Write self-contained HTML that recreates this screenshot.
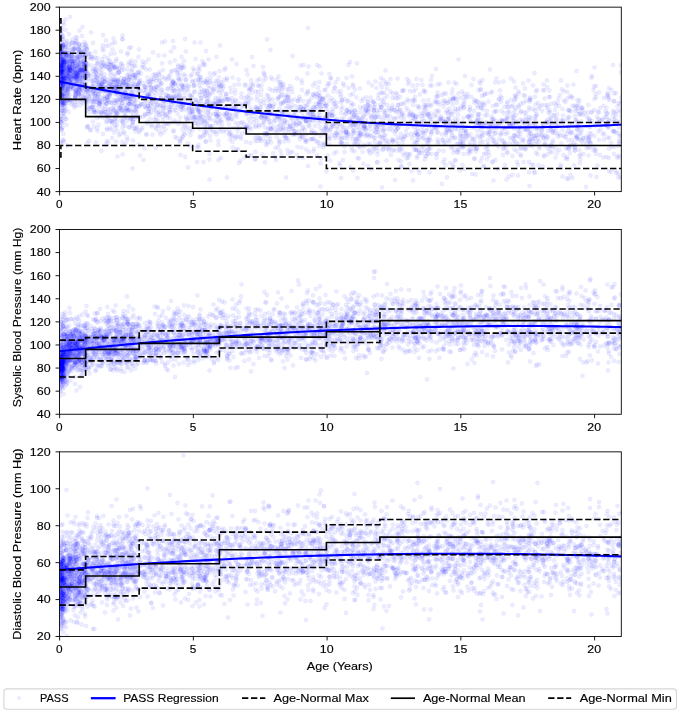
<!DOCTYPE html><html><head><meta charset="utf-8"><style>html,body{margin:0;padding:0;background:#fff;overflow:hidden}svg{display:block}text{font-family:"Liberation Sans",sans-serif}</style></head><body><svg width="680" height="713" viewBox="0 0 680 713" style="will-change:transform"><rect width="680" height="713" fill="#fff"/><defs><clipPath id="c0"><rect x="59.5" y="7.15" width="561.8" height="184.45"/></clipPath><clipPath id="c1"><rect x="59.5" y="229.5" width="561.8" height="184.75"/></clipPath><clipPath id="c2"><rect x="59.5" y="451.85" width="561.8" height="184.65"/></clipPath><marker id="mk" markerUnits="userSpaceOnUse" overflow="visible" markerWidth="1" markerHeight="1"><circle r="4.3" fill="#00f" fill-opacity="0.075" stroke="#00f" stroke-opacity="0.04" stroke-width="1.8"/></marker></defs><g clip-path="url(#c0)"><g transform="scale(.5)" fill="none" stroke="none"><path d="m119 46 0 25 0 43 0 3 0 17 0 11 0 7 0 7 0 21 0 11 0 6 0 55 1-183 0 21 0 8 0 1 0 0 0 4 0 1 0 0 0 1 0 2 0 1 0 4 0 15 0 1 0 3 0 0 0 7 0 1 0 1 0 4 0 3 0 5 0 3 0 1 0 6 0 1 0 2 0 1 0 1 0 6 0 3 0 4 0 2 0 2 0 3 0 12 0 15 0 11 0 9 0 8 0 2 0 7 1-181 0 7 0 27 0 8 0 1 0 1 0 3 0 6 0 5 0 5 0 5 0 7 0 0 0 4 0 0 0 16 0 1 0 0 0 2 0 6 0 1 0 2 0 5 0 5 0 4 0 5 0 1 0 1 0 4 0 5 0 17 0 14 0 47 1-194 0 4 0 8 0 2 0 1 0 1 0 8 0 8 0 7 0 1 0 1 0 3 0 0 0 1 0 1 0 2 0 1 0 3 0 0 0 2 0 1 0 0 0 2 0 1 0 4 0 1 0 6 0 4 0 7 0 0 0 5 0 13 0 12 0 40 0 47 1-232 0 5 0 7 0 24 0 6 0 1 0 4 0 10 0 5 0 3 0 4 0 1 0 1 0 3 0 3 0 1 0 1 0 3 0 5 0 1 0 2 0 0 0 9 0 3 0 0 0 1 0 5 0 1 0 0 0 9 0 7 0 11 0 2 0 8 0 1 0 7 0 28 0 7 0 12 0 2 0 1 1-175 0 3 0 13 0 6 0 2 0 8 0 1 0 2 0 3 0 3 0 5 0 1 0 3 0 7 0 0 0 0 0 2 0 0 0 10 0 4 0 1 0 0 0 15 0 5 0 9 0 2 0 2 0 2 0 11 0 1 0 4 0 7 0 3 0 12 0 15 1-173 0 5 0 11 0 2 0 2 0 1 0 8 0 3 0 14 0 1 0 6 0 0 0 5 0 4 0 4 0 5 0 7 0 4 0 2 0 5 0 1 0 3 0 1 0 1 0 6 0 2 0 0 0 5 0 8 0 1 0 12 0 8 0 10 0 34 1-210 0 27 0 6 0 12 0 1 0 24 0 5 0 2 0 2 0 1 0 4 0 2 0 0 0 1 0 9 0 9 0 1 0 3 0 3 0 13 0 0 0 1 0 0 0 4 0 3 0 23 0 5 0 1 0 74 1-167 0 6 0 4 0 6 0 6 0 1 0 2 0 0 0 4 0 1 0 0 0 0 0 1 0 1 0 7 0 1 0 2 0 2 0 1 0 7 0 0 0 2 0 2 0 16 0 3 0 6 0 9 0 3 0 2 0 0 0 13 0 4 0 17 0 25 0 12 0 4 1-235 0 41 0 24 0 6 0 1 0 1 0 2 0 1 0 1 0 0 0 5 0 5 0 1 0 14 0 0 0 4 0 2 0 0 0 2 0 3 0 1 0 1 0 6 0 15 0 2 0 12 0 7 0 10 0 12 0 5 1-139 0 23 0 8 0 4 0 23 0 8 0 2 0 9 0 17 0 4 0 3 0 4 1-103 0 9 0 1 0 0 0 2 0 15 0 1 0 17 0 0 0 26 0 10 0 3 0 18 0 5 0 4 0 6 0 9 1-183 0 21 0 28 0 16 0 8 0 11 0 10 0 1 0 22 0 5 0 2 0 16 0 28 0 31 1-153 0 8 0 2 0 11 0 2 0 0 0 8 0 8 0 14 0 19 0 0 0 9 0 16 0 37 1-108 0 0 0 4 0 8 0 5 0 8 0 6 0 5 0 2 0 1 0 2 0 1 0 5 0 15 0 19 0 46 0 12 1-168 0 29 0 12 0 8 0 1 0 5 0 8 0 11 0 13 0 9 0 4 0 7 0 3 0 9 0 90 1-191 0 10 0 8 0 3 0 7 0 0 0 7 0 8 0 6 0 3 0 7 0 6 0 8 0 12 0 15 1-60 0 4 0 0 0 6 0 2 0 8 0 11 0 3 0 2 0 2 0 3 0 1 0 17 0 2 0 5 1-96 0 23 0 6 0 2 0 5 0 1 0 8 0 2 0 28 0 7 0 32 1-156 0 22 0 16 0 3 0 2 0 7 0 6 0 9 0 2 0 20 0 7 0 6 1-68 0 34 0 3 0 1 0 4 0 4 0 9 0 9 0 9 0 17 0 9 1-165 0 53 0 32 0 4 0 3 0 1 0 2 0 6 0 2 0 1 0 1 0 1 0 2 0 0 0 6 0 5 0 9 0 2 0 13 1-71 0 9 0 7 0 11 0 1 0 3 0 3 0 1 0 17 0 9 0 33 0 0 1-105 0 16 0 1 0 6 0 30 0 6 0 1 0 4 0 0 0 6 0 3 0 6 1-63 0 11 0 19 0 9 0 3 0 10 0 10 0 0 0 6 0 23 0 7 1-124 0 1 0 28 0 4 0 4 0 3 0 5 0 4 0 1 0 5 0 3 0 2 0 12 0 10 1-88 0 25 0 0 0 9 0 16 0 4 0 18 0 7 0 8 0 10 0 30 1-107 0 26 0 3 0 1 0 14 0 6 0 29 1-81 0 16 0 9 0 22 0 9 0 17 0 5 1-53 0 1 0 2 0 11 0 2 0 11 0 3 0 18 0 1 1-84 0 11 0 2 0 22 0 17 0 5 0 10 0 3 0 54 0 4 1-126 0 7 0 2 0 11 0 7 0 10 0 7 0 6 0 2 0 12 0 4 0 0 0 9 0 26 0 2 0 2 0 8 1-129 0 57 0 4 0 10 0 0 0 8 0 8 0 6 0 15 0 3 0 0 0 2 0 2 0 4 0 2 0 2 1-115 0 3 0 37 0 22 0 1 0 6 0 2 0 1 0 3 0 24 0 2 1-102 0 49 0 2 0 12 0 2 0 2 0 4 0 2 0 5 0 6 0 13 0 1 0 1 0 30 1-136 0 40 0 0 0 15 0 7 0 10 0 6 0 4 0 5 0 3 0 3 0 6 1-67 0 9 0 16 0 13 0 4 0 2 0 1 0 52 1-106 0 20 0 5 0 19 0 3 0 4 0 1 0 25 1-76 0 15 0 10 0 4 0 30 0 21 0 5 0 2 0 3 0 0 1-100 0 2 0 3 0 4 0 17 0 18 0 3 0 6 0 5 0 16 0 10 1-112 0 27 0 12 0 4 0 2 0 1 0 7 0 13 0 5 0 3 0 5 0 0 0 4 0 1 0 7 0 1 0 0 0 6 0 1 0 13 0 5 0 3 0 7 0 2 0 2 0 8 1-88 0 13 0 15 0 0 0 10 0 6 0 1 0 15 0 8 0 31 1-107 0 20 0 18 0 21 0 13 0 6 1-60 0 9 0 9 0 1 0 3 0 26 0 4 0 24 1-95 0 32 0 5 0 25 0 21 0 18 1-132 0 34 0 8 0 24 0 5 0 24 0 1 0 8 0 2 1-124 0 36 0 7 0 14 0 10 0 19 0 9 0 4 0 7 0 39 1-88 0 4 0 13 0 13 0 12 0 3 0 51 1-103 0 24 0 7 0 2 0 2 0 1 0 5 0 5 0 7 0 7 0 29 0 1 1-72 0 1 0 2 0 4 0 2 0 3 0 8 0 9 0 21 0 11 1-99 0 18 0 3 0 23 0 12 0 17 0 14 0 0 0 26 1-102 0 12 0 6 0 1 0 11 0 6 0 0 0 9 0 5 0 6 0 4 0 15 0 3 0 17 1-102 0 2 0 21 0 14 0 12 0 5 0 0 0 6 0 7 0 12 0 6 0 4 0 3 0 16 1-71 0 2 0 5 0 0 0 4 0 7 0 12 0 3 0 43 0 4 1-112 0 4 0 41 0 30 0 13 0 2 0 16 1-100 0 0 0 82 0 40 0 34 0 32 1-158 0 16 0 2 0 12 0 44 0 4 0 7 0 40 1-102 0 25 0 3 0 10 0 8 0 54 1-145 0 1 0 7 0 34 0 2 0 24 0 7 0 6 0 29 1 65 1-89 0 4 0 20 0 7 2-215 0 98 0 11 0 13 0 21 0 9 0 18 0 0 0 81 0 0 1-195 0 49 0 75 1-13 0 27 0 11 0 2 1-102 0 68 0 17 0 16 1-73 0 17 0 9 0 4 0 32 0 10 1-128 0 31 0 21 0 24 0 12 0 9 0 27 0 33 1-94 0 32 0 1 0 5 0 15 0 22 1-58 0 9 0 45 0 4 0 29 1-114 0 51 0 8 0 5 0 17 0 4 1-109 0 17 0 11 0 17 0 28 0 4 0 4 1-92 0 50 0 25 0 9 1-50 0 7 0 58 0 8 0 15 0 59 1-139 0 8 0 29 1-60 0 6 0 11 0 9 0 6 0 2 0 6 0 11 0 4 0 20 0 6 0 32 0 21 1-141 0 47 0 4 0 55 0 40 1-136 0 45 0 11 0 9 0 3 1-4 0 10 0 50 1-85 0 5 0 12 0 7 0 17 0 8 0 10 1-49 0 24 0 7 0 3 1-72 0 24 0 41 0 6 0 0 0 26 1-81 0 17 0 33 1-77 0 5 0 15 0 4 0 20 0 4 0 6 0 2 0 45 1-94 0 8 0 27 0 6 0 1 0 49 0 78 1-183 0 48 0 1 0 37 0 20 1-134 0 7 0 27 0 33 0 2 0 8 0 3 0 25 0 20 0 11 1-157 0 113 0 85 1-167 0 29 0 33 1 1 0 29 0 5 0 25 0 13 1-123 0 13 0 8 0 15 0 7 0 1 0 23 0 38 1-85 0 30 0 11 0 3 0 4 0 17 0 5 0 8 1-80 0 33 0 11 0 8 0 41 0 65 1-208 0 11 0 116 0 16 1-31 0 14 0 21 0 4 0 12 1-69 0 20 0 12 0 25 0 11 0 14 0 3 0 22 1-147 0 25 0 5 0 20 0 9 0 1 0 5 0 1 1-84 0 11 0 55 0 35 0 16 0 51 1-150 0 37 0 15 0 14 0 19 0 16 1-145 0 30 0 17 0 34 0 6 0 16 1-65 0 1 0 9 0 27 0 12 0 11 0 15 1-64 0 17 0 12 0 16 0 7 0 35 0 30 1-149 0 16 0 25 0 32 0 5 0 2 0 41 0 13 0 0 1-97 0 24 0 37 0 12 0 6 1-96 0 2 0 41 0 8 0 80 1-122 0 22 0 4 0 12 0 31 0 36 0 6 0 28 1-189 0 12 0 65 0 7 0 4 0 69 1-28 1-139 0 51 0 5 0 2 0 25 0 14 0 11 0 15 0 21 1-86 0 18 0 24 0 2 0 2 0 40 0 44 1-158 0 52 0 4 0 1 0 42 0 7 0 28 1-156 0 48 0 3 0 13 0 29 0 23 0 38 0 12 1-76 0 4 0 4 0 5 0 34 0 9 0 25 1-134 0 39 0 10 0 0 0 13 0 22 0 20 0 57 1-165 0 21 0 29 0 5 0 10 0 0 0 20 0 20 0 7 0 5 0 8 1-109 0 27 0 9 0 5 0 15 0 39 0 21 1-91 0 26 0 15 0 1 0 24 0 37 0 51 1-167 0 15 0 2 0 19 0 4 1-23 1-26 0 8 0 0 0 0 0 26 0 39 0 7 0 54 1-135 0 38 0 2 0 9 0 9 0 4 0 17 0 9 1-57 0 4 0 11 0 35 1-53 0 36 0 68 1-165 0 24 0 29 0 23 0 10 0 4 0 9 0 10 0 4 0 4 0 21 1-112 1 11 0 30 0 19 0 17 0 0 0 15 1-150 0 7 0 1 0 91 0 72 0 14 0 28 0 25 1-177 0 31 0 0 0 10 0 18 0 1 0 6 0 1 0 23 0 23 0 3 1-109 0 25 0 2 0 13 0 7 0 28 0 24 0 26 1-106 0 30 0 10 1-41 0 2 0 8 0 57 0 7 0 36 1-84 0 8 0 44 0 17 1-87 0 21 0 0 0 8 0 5 0 10 0 8 0 4 0 10 0 57 1-117 0 16 0 7 0 3 1-40 0 10 0 3 0 8 0 12 1-15 0 18 0 2 0 21 0 1 0 5 0 20 0 33 1-169 0 3 0 30 0 11 0 10 0 10 0 6 0 60 0 44 1-84 0 11 0 13 0 2 1-92 0 19 0 17 0 9 0 26 0 8 1-113 0 29 0 34 0 0 0 11 0 84 1-100 0 39 0 5 0 9 0 1 0 10 0 2 0 35 1-103 0 40 0 6 0 0 0 10 1-26 0 20 0 37 1-144 0 32 0 34 0 12 0 17 0 4 0 30 0 13 0 0 1-116 0 21 0 13 0 18 0 13 0 17 0 6 1-77 0 8 0 38 0 7 0 49 0 17 1-60 0 0 0 33 0 24 0 89 1-187 0 0 0 18 0 6 0 19 0 39 0 7 0 5 0 0 0 37 1-69 0 9 0 36 1-126 0 35 0 27 0 7 0 9 1-59 0 5 0 30 0 7 0 10 1-44 0 12 0 38 0 13 0 17 1-115 0 10 0 16 0 3 0 105 0 6 1-107 0 18 0 49 0 11 0 23 1-78 0 21 0 12 0 1 0 2 0 2 0 15 1-57 0 18 0 32 0 29 1-108 0 26 1-4 0 2 1-56 0 29 0 7 0 37 0 102 1-190 0 46 0 20 0 4 0 8 0 36 0 22 0 30 1-103 0 4 0 17 0 78 1-101 0 21 0 31 0 22 0 77 1-103 1-61 0 62 1 50 1-124 1-12 0 85 0 47 1-125 0 37 0 66 1 87 1-185 0 38 0 8 1 5 0 19 0 92 1-124 0 1 0 25 0 14 0 1 0 14 0 3 1-106 1 55 1-41 0 37 0 40 0 52 0 2 1-76 0 34 0 19 1-92 0 9 0 27 0 0 0 14 0 39 1-53 0 21 0 0 1-93 0 44 0 26 0 33 0 1 1-35 1-18 0 23 0 24 0 0 0 11 1-89 0 24 0 7 0 23 0 45 1-55 0 2 0 18 0 5 0 4 1-51 0 13 0 5 0 20 0 26 1-49 0 74 0 3 1-96 1 7 0 41 0 64 1-164 0 94 1-49 1 8 0 19 0 32 0 11 0 19 1-63 0 9 0 7 0 24 1-68 0 32 1 19 0 55 1-102 0 10 0 11 0 31 0 21 0 9 0 7 0 17 0 38 2-140 0 17 0 37 0 5 1-33 1-7 0 25 0 9 0 16 0 16 0 9 1-139 0 37 0 104 1-102 0 113 1-119 0 16 0 10 0 20 0 33 0 6 0 2 1-68 1 47 0 2 0 57 1-101 0 28 0 1 1-16 0 74 1-170 0 42 0 40 0 12 0 23 1-48 0 32 0 27 1-73 0 76 0 9 0 8 0 7 0 25 1-43 1-19 0 0 0 49 1-141 0 46 0 56 1-130 0 146 1-33 0 11 0 40 0 12 1-70 0 8 0 19 0 15 1-72 1 70 1-51 0 13 0 1 0 43 1-58 0 19 0 51 0 1 1-95 0 4 1 35 0 29 1-28 0 11 0 8 0 13 1-100 0 25 0 49 0 21 0 4 0 12 1-22 1-111 0 40 0 33 0 28 0 10 1-54 0 8 0 4 0 23 0 50 1-49 0 7 1-61 0 41 0 15 1-116 0 83 0 0 0 0 0 6 0 23 0 10 1-42 0 16 0 27 0 56 0 2 1-168 0 86 0 11 0 29 1-53 0 1 0 13 0 28 0 31 1-120 0 45 0 108 1-134 0 56 0 3 0 21 0 25 1-52 1-4 1-49 0 136 1-131 0 3 0 30 0 19 0 18 0 12 1-96 0 25 0 14 1-37 0 49 0 20 0 9 0 37 1-89 0 1 0 31 1-2 0 19 0 36 1-94 0 43 0 42 0 47 0 2 1-144 0 41 0 129 1-175 0 62 0 7 0 9 0 6 0 59 1-164 0 22 0 23 0 10 0 37 0 7 1-83 0 40 0 3 0 5 0 42 1-9 0 48 0 14 0 2 1-59 1-80 0 37 0 2 0 36 0 41 1-130 0 11 0 16 0 31 0 16 0 13 0 58 1-80 1-109 0 74 0 45 0 8 0 44 0 20 0 45 1-144 1-67 0 57 0 0 0 60 0 14 0 3 0 21 2-80 1 61 0 3 0 12 1-72 0 105 0 48 1-164 0 3 0 41 1 2 0 2 0 9 1-37 0 45 0 27 1-37 0 67 1-141 0 40 0 14 0 64 1-65 0 19 0 33 1-21 1-87 0 41 0 5 0 19 0 4 1-56 0 2 0 42 0 15 0 1 0 6 0 33 1-124 0 88 1-53 0 65 0 4 1-100 0 30 0 62 1-148 0 85 0 13 0 1 1 50 0 1 0 11 1-128 0 43 0 39 1 0 0 16 1 19 0 6 1-37 0 90 0 30 1-176 0 0 0 67 0 3 0 32 1-41 0 11 0 4 0 23 1-109 0 19 0 4 0 129 0 5 1-72 0 16 1-106 0 8 0 23 0 7 0 19 0 15 0 16 0 8 0 7 0 22 1-73 0 38 0 8 0 42 0 2 1-190 0 69 0 1 1 5 0 17 0 19 0 6 0 30 0 6 1-42 0 50 1-62 0 29 1-91 0 126 1-118 0 36 0 68 0 8 0 31 1 51 1-197 0 55 0 26 0 14 0 18 0 25 1-102 0 25 0 82 1-140 0 50 0 11 0 20 0 3 0 29 0 11 1-62 0 39 0 27 0 25 1-181 0 161 0 20 1-121 0 3 0 1 0 17 0 21 0 39 1-85 0 24 0 15 0 12 0 38 0 4 0 15 1-64 0 2 1-18 0 37 0 3 0 9 1-116 0 53 0 18 0 5 0 24 2-54 0 12 0 59 0 72 0 11 0 40 1-212 0 41 0 16 0 7 0 18 0 43 1-116 0 7 0 76 0 13 0 1 0 3 0 3 0 22 1-65 2-30 0 28 1-6 0 44 0 11 1-86 1-9 0 10 0 3 0 47 1-79 0 57 1 35 0 23 1-118 0 56 0 6 0 2 0 2 1-16 1-34 0 66 0 1 0 17 1-132 0 93 0 16 0 40 0 6 1-97 0 60 0 0 1-69 0 18 0 38 0 14 0 8 1-44 1 4 0 3 0 4 0 20 0 20 0 34 0 8 0 30 1-165 0 14 0 4 0 41 1-72 0 42 0 17 0 4 0 30 1-144 0 138 0 14 1-79 0 10 0 84 0 5 1-92 0 2 0 19 0 9 0 39 0 76 2-133 0 62 0 8 1-87 0 36 0 14 1-39 0 25 1-30 1 92 1-124 0 19 0 69 0 3 1-33 1-62 0 78 0 1 0 45 1-72 0 5 0 21 0 19 1-45 0 38 0 1 1-71 0 4 0 39 0 28 0 128 1-156 0 41 1-4 0 1 1-39 1 51 0 11 0 9 1-69 0 17 0 11 0 3 0 6 0 31 1 11 1-103 0 89 1-81 0 30 1 25 1-120 0 77 0 42 0 35 1-118 0 48 0 27 0 41 0 13 1-28 0 39 1-89 0 9 0 4 2-49 0 47 1-37 0 7 1 13 0 14 0 32 0 31 1-75 0 14 0 5 0 10 0 43 1-146 0 82 0 16 0 8 0 65 1-44 1 7 0 10 1 27 1-140 0 63 0 25 1-78 0 87 0 70 2-119 0 13 0 3 1 51 0 47 1-126 0 51 0 31 1-90 1 26 0 54 1-23 0 11 1-44 3-15 0 52 0 67 1-144 0 34 0 4 1-40 0 95 1-35 0 27 0 0 0 28 1-144 0 68 0 44 1-58 0 28 0 5 0 27 1-105 0 54 0 23 0 40 1-10 1-59 1-20 0 4 0 9 0 16 0 32 0 74 1-66 1-31 0 40 1-78 0 50 0 59 1-126 0 9 0 10 0 80 0 51 1-112 0 34 1-118 0 106 1-35 1-17 0 5 1-41 0 93 0 13 0 7 3-19 0 27 0 22 0 43 1-104 0 68 0 22 0 15 1-136 0 70 1-38 0 3 0 17 1-42 0 7 0 43 1-82 0 56 0 57 0 8 1-111 0 13 1 36 1-48 0 78 0 3 0 23 1-118 1 59 1-15 0 6 0 68 0 3 1-89 0 24 0 21 0 0 0 47 1-111 0 9 0 50 0 5 1-9 0 5 1 19 0 59 1-175 1 11 0 17 0 83 1-46 0 7 0 37 1-95 0 4 0 79 0 5 0 31 1-34 0 40 0 9 0 43 1-87 0 17 0 11 1-109 0 77 0 56 1-78 0 56 1-189 0 111 0 78 1-47 0 10 0 7 0 50 1-72 0 9 0 33 0 8 0 17 1-91 0 8 0 37 1-12 0 20 1-67 0 20 0 13 0 16 0 45 1-64 0 4 0 1 0 15 0 29 0 21 1-178 0 142 0 15 1-102 0 94 0 10 0 26 1-68 0 8 0 3 1-47 0 77 1-99 0 40 0 13 1 95 1-93 0 41 2-47 0 27 0 8 1-2 0 23 1-82 0 114 0 18 1-137 0 143 1-47 1-114 0 72 0 2 0 2 0 26 1-38 0 30 1-57 0 3 0 34 0 61 1-141 0 29 0 79 1-67 0 39 0 47 1-115 0 12 0 40 0 17 0 5 0 13 0 32 0 3 1-114 0 69 1-78 0 5 0 23 0 110 1-95 0 1 0 41 0 9 1-74 0 6 0 35 0 35 0 50 1-87 0 3 0 11 1-67 0 7 1 29 0 50 1-88 0 7 0 29 0 20 0 24 0 9 1 15 0 11 1-89 0 46 0 6 1-44 0 40 0 24 0 6 1-82 0 12 0 25 1-11 0 59 0 1 0 79 1-97 1-64 0 50 1-43 0 76 0 23 1-122 0 3 0 13 0 12 0 7 0 19 0 76 1-117 0 5 0 57 0 29 1-23 0 6 1-63 0 25 1-55 0 43 0 17 0 18 1 2 0 2 0 51 1-88 1-16 0 38 1-62 0 7 0 52 0 22 1-146 0 98 0 60 0 34 1-47 1-25 0 14 1-15 0 31 0 6 1-69 0 49 0 20 1-45 0 1 0 39 1-50 0 56 1-36 0 9 0 9 1-14 0 12 0 15 1-107 0 153 1-16 1-92 0 0 0 18 0 14 0 82 1-79 1 10 0 16 1-69 0 4 0 16 0 8 0 25 0 25 1 7 1-148 0 82 0 7 0 22 0 7 1-34 0 58 1-113 0 135 1-129 0 14 0 55 0 27 1-36 0 47 0 1 1-72 0 34 0 21 0 59 1-186 0 88 0 0 0 1 0 35 2-41 0 24 1-2 0 25 0 20 1-38 0 42 1-64 0 22 0 0 0 1 0 26 0 11 0 19 1-111 0 23 1 30 0 42 1-136 0 63 0 15 1-169 0 126 0 3 0 17 0 28 0 102 1-199 0 90 0 28 1 53 1-101 0 38 0 4 0 8 1-24 0 4 1-14 0 3 0 15 0 41 1-13 1-69 0 44 0 39 1-57 0 9 0 30 0 5 1-42 1-53 0 18 0 38 0 51 1-89 0 26 0 0 0 14 0 5 0 0 0 8 0 35 0 26 1-37 0 32 1-106 1-26 0 51 0 18 0 17 1-44 0 31 0 26 1-78 0 81 0 14 1-67 1-85 0 65 0 38 0 78 1-122 0 22 0 73 1-109 1 33 0 29 0 9 1-54 0 11 0 22 0 11 0 56 1-159 0 31 0 20 0 20 0 3 0 29 0 50 1-94 0 4 0 15 0 20 0 11 0 13 1-51 0 13 0 55 0 55 0 46 1-174 0 19 0 99 1-170 0 115 2-65 0 2 0 12 1-12 0 38 0 58 1-33 0 28 1-84 0 38 0 42 0 3 1-109 0 16 0 62 1-46 0 56 1-88 0 54 0 3 0 17 1-46 0 4 0 43 0 3 0 8 1-48 0 17 0 11 0 6 0 91 1-132 0 19 0 1 1-59 0 52 1-57 0 24 0 69 0 13 0 38 1-73 2-90 0 19 0 35 0 27 0 0 0 9 0 39 0 1 0 11 1-28 0 60 1-164 0 68 0 33 1-102 1 41 0 57 1-24 0 1 0 18 0 21 1-52 0 14 0 20 1-29 1-40 0 18 0 7 0 23 0 21 1-5 0 60 1-131 0 31 1-32 0 65 0 32 0 4 1-111 0 80 0 21 1-53 1-8 0 9 0 52 0 38 1-66 0 15 0 15 1-10 0 12 1-112 0 26 1 63 2 1 0 28 0 50 1 5 1-149 0 11 0 73 0 19 1-96 0 16 0 80 0 71 1-138 0 8 0 52 1-78 0 1 0 36 0 15 0 23 0 11 1-72 0 46 0 28 1-121 0 153 1-66 1-83 0 68 0 26 1-67 0 78 0 17 0 11 1-75 2-2 0 34 0 3 0 0 1-108 0 65 0 36 0 9 0 5 1-50 0 67 1-85 0 16 0 46 0 3 0 9 1-76 1-71 0 46 0 93 1-44 1-1 0 14 0 4 1-118 0 129 1-63 0 52 0 92 1-89 0 5 1-44 0 5 0 10 0 23 0 28 0 23 1-142 0 72 0 2 0 9 0 65 2-132 0 4 0 15 0 62 0 17 0 11 0 63 1-132 0 25 0 21 0 6 0 1 1-31 0 34 1-44 0 9 0 19 0 38 0 16 1-124 0 42 0 24 0 1 0 42 1-54 0 45 1-54 0 25 0 33 1-88 1-68 0 104 0 44 0 4 1-39 0 14 0 62 0 40 1-119 0 30 0 23 1-30 0 16 1-39 0 7 0 49 0 24 1-71 0 37 1-106 0 38 0 52 0 4 1-47 0 22 0 21 0 5 0 23 1-55 0 13 0 16 1-67 0 41 0 19 1-24 1 66 1-106 0 18 1 16 0 1 0 22 0 35 0 38 1-76 1-39 0 39 0 1 0 2 0 13 0 25 1-69 0 27 0 8 0 13 2-77 0 25 0 1 0 20 0 16 0 3 1-48 0 16 1-8 0 50 1-67 1 1 0 7 0 12 0 46 0 19 0 44 1-167 0 46 0 6 0 57 0 28 1-81 1 79 1-88 0 37 0 3 0 7 0 29 0 19 1-112 0 76 1-40 0 3 0 105 1-102 0 35 1-101 1 31 1 102 1-100 0 1 0 10 0 6 0 9 0 64 1-74 0 2 0 18 0 8 0 14 0 36 1-84 0 61 0 1 1-68 0 26 0 20 0 30 1-121 0 73 0 29 1-32 0 32 1-89 0 78 0 3 0 39 1-75 0 27 0 9 0 68 1-99 0 65 0 11 0 7 0 15 1-127 0 37 0 17 0 13 1-75 0 57 0 4 1 10 1 10 0 17 1-77 0 10 0 54 0 11 0 1 1-118 0 17 0 49 1-78 0 58 1-14 0 14 0 1 0 38 1-78 0 74 0 26 0 100 1-189 0 54 0 60 1-38 0 36 1-138 0 44 0 47 0 10 0 15 1-90 0 22 0 15 0 36 0 12 0 21 1-95 0 34 0 51 1-56 1-85 0 27 0 53 0 15 0 13 0 21 1 27 1-132 0 115 0 41 1-144 0 15 0 40 1-22 0 21 0 57 1-29 1 25 0 13 1-129 0 49 0 84 1-59 0 9 1-29 0 11 0 61 1-136 0 25 0 75 1 52 1-91 1-3 0 64 1-93 0 9 0 15 0 50 0 22 1-31 0 27 0 4 0 19 1-3 1-79 0 17 1-16 0 17 1 29 0 93 1-164 1-10 0 75 0 0 1-37 0 27 0 1 0 30 1-93 0 28 0 84 1-144 0 40 0 38 0 22 1-47 0 47 0 18 0 13 1-78 0 14 0 96 1-27 1-40 1-59 0 25 0 2 0 78 1-22 0 25 1-94 0 27 0 33 0 55 0 11 1-104 0 102 1-150 0 46 0 69 1-72 0 52 0 9 1-78 1-28 0 2 0 96 0 32 1-78 0 8 1 32 1-67 0 68 0 34 1-58 1 13 1-46 0 101 1-159 1 41 0 71 0 38 1-140 0 53 0 33 0 62 2-153 0 39 0 30 0 79 1-83 0 100 1-146 0 48 0 18 0 60 2-83 0 43 1-26 0 100 1-66 1-105 0 80 0 41 1-91 0 9 0 18 0 3 0 4 0 126 1-178 0 17 0 31 2 6 0 18 0 15 0 14 0 16 1-106 0 8 0 37 1-60 0 53 0 34 0 20 0 11 1-64 0 14 0 1 0 17 0 35 1-142 0 142 1-55 0 26 0 15 0 30 1-146 0 42 0 46 0 10 0 11 0 33 1-78 0 28 0 7 0 2 0 9 1-64 0 124 1-94 0 55 0 4 1-91 0 92 0 40 1-157 1 38 0 46 1-28 0 3 1-88 0 135 1-63 0 29 0 45 1-136 0 68 0 15 0 12 0 11 2-75 0 26 0 39 0 26 1-111 0 2 0 38 0 21 0 35 0 24 1-91 0 4 0 16 0 38 0 51 1-101 1-34 0 128 1-102 0 52 1-48 0 66 0 22 0 11 1-53 0 26 1-62 0 8 0 75 1-79 0 1 0 49 1-78 0 10 0 77 0 11 0 9 1-77 0 22 0 29 0 17 1-60 0 38 0 69 1-174 0 79 1-38 0 22 0 46 0 16 1-136 0 108 1-59 0 18 0 11 0 7 0 18 0 2 0 43 1-156 0 19 0 87 4-6 1 4 1-53 0 27 0 25 1-11 0 5 0 2 1-113 0 56 0 9 0 19 0 11 1-27 0 52 0 50 0 0 0 8 1-61 0 10 1-96 0 16 0 7 0 87 1-86 0 72 0 22 1-83 0 17 0 3 0 60 1-41 0 58 1-92 1-41 0 70 0 1 2-6 0 3 1 5 1-51 0 79 0 99 1-89 1-41 0 42 0 45 1-124 0 5 0 7 0 89 1-115 0 55 0 44 1-41 0 74 1-75 0 10 1-52 0 43 0 41 0 44 1-143 0 38 0 20 0 19 0 2 0 4 1-64 0 53 1-38 0 134 1-95 1-54 0 20 0 12 0 1 0 22 0 19 1-115 0 69 1 3 0 10 1-30 0 26 0 9 0 31 1-84 0 4 0 21 0 38 1-2 0 66 1-30 1-68 0 1 0 30 0 17 1-89 0 79 0 5 1-92 0 70 0 44 1-95 0 1 0 10 0 34 0 87 1-134 0 1 0 52 0 56 0 29 2-169 0 58 0 53 0 24 1-82 0 19 0 21 0 17 0 47 1-127 0 55 0 6 0 64 1-121 1-31 0 76 0 44 1-83 0 100 2-88 0 4 0 9 0 10 0 8 0 11 0 29 0 10 1-179 0 68 0 113 0 5 2-28 1-81 0 72 0 73 1-92 0 22 0 10 0 7 0 1 1-71 0 43 0 31 1-79 0 71 1-101 0 90 1-19 0 1 0 39 0 1 0 35 1-120 0 35 0 27 0 14 1-50 0 44 0 9 0 19 1-120 0 6 0 8 0 13 0 0 0 47 1-55 0 86 0 45 1-186 1 107 0 8 0 11 1-16 0 3 0 8 1-77 2-8 0 5 0 40 0 37 1-37 0 40 0 35 1-75 0 68 1-66 1-14 1-7 0 5 0 22 0 44 0 6 0 8 0 6 1-75 0 39 1 33 1-132 0 24 0 50 0 12 1-24 0 45 0 71 2-70 1-120 1 47 0 17 0 32 0 37 0 6 1-97 0 80 0 6 0 31 0 1 1-63 1 94 1-147 0 40 0 4 0 1 0 56 1-6 0 1 1-95 0 41 0 28 0 24 1-85 0 18 0 13 0 20 1-47 0 20 0 3 0 15 1-72 0 24 0 23 0 20 1-1 1-84 0 66 0 17 0 27 1 15 1-121 0 11 0 69 0 1 0 32 0 43 1-143 0 35 0 1 0 24 0 19 1-53 0 67 1-81 0 18 0 42 0 15 0 49 1-156 0 111 1-52 0 65 1 50 1-144 0 17 0 45 0 56 0 24 1-122 0 39 0 16 1-77 0 43 1 65 1-51 0 1 0 61 2-120 0 35 0 8 0 88 1-27 0 7 1-31 0 14 0 8 1-86 0 50 0 16 0 35 1-45 0 6 0 46 1-62 1-110 0 125 1-14 0 5 0 19 1-88 1 47 0 17 1-67 0 56 0 86 1-51 1-62 0 27 0 11 0 12 0 20 0 41 1-85 0 5 0 118 1-137 0 56 1-25 0 34 1-124 0 102 1-44 0 28 0 15 0 19 0 35 2-163 0 52 0 1 0 12 0 20 1 11 0 4 1 32 1 49 1-139 0 52 0 42 1-128 0 114 1-81 1-17 0 71 1-60 0 75 0 3 1-66 0 36 1-18 1-26 0 45 0 4 0 13 0 22 1-38 0 24 1-24 0 56 0 12 1-147 0 119 0 6 1-62 0 29 0 41 1-82 1 43 0 29 0 3 0 41 1-88 1 26 0 27 1-60 0 124 1-152 0 32 0 0 0 65 1-100 0 10 0 51 0 41 1-81 0 7 1-18 1 9 0 28 0 1 0 0 0 101 1-66 1-37 0 26 2-119 0 43 1 13 0 22 0 13 2-37 0 31 0 5 0 30 0 35 0 38 1-123 0 21 0 1 1-16 0 54 1-124 0 73 0 21 0 14 0 7 1-76 0 40 0 29 0 11 0 17 1-107 0 6 0 23 1-46 0 16 0 25 0 55 1-41 1-35 0 49 0 4 0 38 1 17 0 21 2-62 0 10 0 58 0 21 1-168 0 4 0 24 0 77 1-74 0 49 1-23 0 34 1-20 1-29 0 30 0 12 0 29 0 13 1-102 0 15 0 75 0 15 2-31 1-41 0 3 0 1 1-77 1 23 0 16 0 72 0 5 0 41 1-99 0 71 1-49 0 6 0 5 1-81 0 15 0 68 1 37 0 2 1-97 0 23 0 8 0 7 0 19 1-4 2-15 0 19 1-14 0 46 1-130 0 93 0 18 1-57 0 33 0 16 0 19 0 1 0 40 0 21 1-148 0 6 0 16 0 15 0 7 0 12 0 27 0 92 1-172 0 60 0 7 1-72 0 5 0 79 1-43 0 53 0 1 1-22 0 5 0 56 2-36 1-122 0 78 0 29 0 4 1-64 0 112 1-74 0 16 1-126 0 103 0 95 0 2 1-152 0 27 0 17 0 38 1-67 0 24 0 9 0 10 0 36 1-105 0 89 0 33 1-77 0 3 0 39 1-90 0 76 0 28 1-29 0 6 0 48 1-103 0 71 1-60 0 113 1-60 0 13 0 11 1 3 1-84 2 56 1-16 0 9 1-52 0 12 0 34 0 5 1 10 0 62 1-153 0 95 1-106 0 79 0 4 0 25 1 34 0 2 1-132 0 16 0 94 1-20 0 16 0 2 1-79 1 68 1-35 1-82 0 13 0 42 0 29 0 0 0 28 1-62 0 29 0 69 1-47 0 13 0 22 1-72 0 25 1-56 1-13 0 39 0 73 1-99 0 31 0 10 0 20 0 48 1-60 0 17 1-52 0 30 0 15 0 1 0 36 1 2 1-46 0 18 0 41 1-20 0 9 1-32 0 19 1-50 0 35 1-35 0 27 1-52 1 14 1 26 0 4 0 16 0 31 0 18 1-104 0 27 0 20 1-19 1-10 0 77 1-101 1 68 1-76 0 50 0 20 1-55 1 88 1-110 0 82 1 62 1-173 0 80 0 89 1-43 1-108 1 39 0 23 0 5 0 14 0 93 1-122 0 39 1-29 0 69 1-127 0 18 1 73 2-70 0 113 1-43 0 23 2-30 0 47 0 43 1-186 0 13 0 13 0 43 0 56 0 22 1-98 0 15 0 27 1 19 0 77 1-136 0 34 0 41 0 0 1-77 0 14 0 13 0 45 1-99 0 113 1-39 0 83 1-127 0 42 0 25 1-97 1 58 0 13 0 16 1-84 0 16 0 144 1-65 1-122 1 117 0 45 1-120 1 21 0 62 0 2 0 5 0 0 1-86 0 7 0 18 0 31 1-31 0 50 1-148 0 131 0 3 1-64 0 39 0 8 0 17 1-76 0 22 0 22 0 16 0 13 1-57 0 63 1-71 1 21 0 23 1-51 0 57 0 9 0 33 0 12 1-85 0 99 1-98 0 51 0 30 0 9 1-75 0 24 1-52 0 2 0 64 1-21 1-44 0 5 0 67 1-58 0 47 1-1 0 32 2-82 2 56 1 92 1-101 0 16 0 7 1-62 1-9 2-15 0 64 0 5 0 4 0 12 0 16 1-74 0 5 0 34 1-22 0 12 1-26 0 34 0 9 0 12 1-42 0 33 0 1 0 64 1-126 1-69 0 112 1-116 0 72 0 18 3-62 0 113 0 8 1-128 1-38 0 63 0 22 0 52 1-23 1-61 0 64 0 47 0 2 1-129 0 23 0 113 1 46 1-120 1 97 1-107 0 21 1-7 0 25 1-78 0 40 0 55 2-64 0 25 0 69 1-51 3-18 1-2 1 30 1-57 0 103 1-119 0 71 0 12 2-44 1-12 2-7 0 18 0 16 0 1 0 63 1-122 0 35 1-41 0 41 0 18 0 1 0 29 1-86 0 66 1-62 0 4 0 54 0 3 1-78 0 64 0 57 0 19 0 26 1-142 0 41 0 35 3 10 0 58 1-164 0 113 2-31 1-132 0 92 0 9 1 31 1-75 0 15 0 1 0 22 0 14 0 6 0 63 1-46 0 2 0 30 1-57 0 103 2-154 0 43 1 37 0 80 1-123 0 92 1-102 1 30 0 104 1-141 0 39 0 47 0 19 0 44 1-100 0 12 0 21 0 27 1-42 0 9 0 1 1-75 0 13 1 133 1-223 0 14 0 50 0 37 0 40 1-49 1-20 1 12 0 24 1-51 0 72" marker-start="url(#mk)" marker-mid="url(#mk)" marker-end="url(#mk)"/></g><path d="M59.6 81.63 L64.34 82.59 L69.09 83.53 L73.83 84.46 L78.57 85.38 L83.32 86.3 L88.06 87.2 L92.8 88.09 L97.54 88.97 L102.29 89.85 L107.03 90.71 L111.77 91.56 L116.52 92.4 L121.26 93.24 L126 94.06 L130.75 94.87 L135.49 95.67 L140.23 96.46 L144.98 97.25 L149.72 98.02 L154.46 98.78 L159.2 99.53 L163.95 100.28 L168.69 101.01 L173.43 101.73 L178.18 102.44 L182.92 103.14 L187.66 103.84 L192.41 104.52 L197.15 105.19 L201.89 105.85 L206.64 106.5 L211.38 107.14 L216.12 107.78 L220.86 108.4 L225.61 109.01 L230.35 109.61 L235.09 110.2 L239.84 110.78 L244.58 111.35 L249.32 111.92 L254.07 112.47 L258.81 113.01 L263.55 113.54 L268.29 114.06 L273.04 114.57 L277.78 115.07 L282.52 115.57 L287.27 116.05 L292.01 116.52 L296.75 116.98 L301.5 117.43 L306.24 117.87 L310.98 118.3 L315.73 118.72 L320.47 119.13 L325.21 119.53 L329.95 119.93 L334.7 120.31 L339.44 120.68 L344.18 121.04 L348.93 121.39 L353.67 121.73 L358.41 122.06 L363.16 122.38 L367.9 122.69 L372.64 122.99 L377.39 123.28 L382.13 123.56 L386.87 123.83 L391.61 124.09 L396.36 124.34 L401.1 124.58 L405.84 124.81 L410.59 125.03 L415.33 125.24 L420.07 125.44 L424.82 125.63 L429.56 125.81 L434.3 125.98 L439.05 126.14 L443.79 126.29 L448.53 126.43 L453.27 126.56 L458.02 126.68 L462.76 126.79 L467.5 126.89 L472.25 126.98 L476.99 127.06 L481.73 127.13 L486.48 127.19 L491.22 127.24 L495.96 127.28 L500.71 127.31 L505.45 127.33 L510.19 127.34 L514.93 127.34 L519.68 127.33 L524.42 127.31 L529.16 127.28 L533.91 127.24 L538.65 127.19 L543.39 127.13 L548.14 127.06 L552.88 126.98 L557.62 126.88 L562.37 126.78 L567.11 126.67 L571.85 126.55 L576.59 126.42 L581.34 126.28 L586.08 126.13 L590.82 125.97 L595.57 125.8 L600.31 125.62 L605.05 125.42 L609.8 125.22 L614.54 125.01 L619.28 124.79 L624.03 124.56" stroke="#0000ff" stroke-width="2.1" fill="none"/><g fill="none" stroke="#000" stroke-width="1.6"><path d="M59.6 18.68 L60.91 18.68 L60.91 53.26 L85.65 53.26 L85.65 87.85 L139.15 87.85 L139.15 99.38 L192.65 99.38 L192.65 105.14 L246.15 105.14 L246.15 110.9 L326.4 110.9 L326.4 122.43 L623.33 122.43" stroke-dasharray="6.3 2.7"/><path d="M59.6 87.85 L60.91 87.85 L60.91 99.38 L85.65 99.38 L85.65 116.67 L139.15 116.67 L139.15 122.43 L192.65 122.43 L192.65 128.2 L246.15 128.2 L246.15 133.96 L326.4 133.96 L326.4 145.49 L623.33 145.49"/><path d="M59.6 157.02 L60.91 157.02 L60.91 145.49 L85.65 145.49 L85.65 145.49 L139.15 145.49 L139.15 145.49 L192.65 145.49 L192.65 151.25 L246.15 151.25 L246.15 157.02 L326.4 157.02 L326.4 168.54 L623.33 168.54" stroke-dasharray="6.3 2.7"/></g></g><rect x="59.5" y="7.15" width="561.8" height="184.45" fill="none" stroke="#000" stroke-width="0.9"/><path d="M59.6 191.6v3.96M193.35 191.6v3.96M327.1 191.6v3.96M460.85 191.6v3.96M594.6 191.6v3.96M59.5 191.6h-3.96M59.5 168.54h-3.96M59.5 145.49h-3.96M59.5 122.43h-3.96M59.5 99.38h-3.96M59.5 76.32h-3.96M59.5 53.26h-3.96M59.5 30.21h-3.96M59.5 7.15h-3.96" stroke="#000" stroke-width="0.9"/><g font-family="Liberation Sans, sans-serif" stroke="#000" stroke-width="0.15" font-size="11.8" fill="#000"><text x="59.3" y="208.2" text-anchor="middle">0</text><text x="193.05" y="208.2" text-anchor="middle">5</text><text x="326.8" y="208.2" text-anchor="middle" textLength="13.82" lengthAdjust="spacingAndGlyphs">10</text><text x="460.55" y="208.2" text-anchor="middle" textLength="13.82" lengthAdjust="spacingAndGlyphs">15</text><text x="594.3" y="208.2" text-anchor="middle" textLength="13.82" lengthAdjust="spacingAndGlyphs">20</text><text x="50.6" y="195.5" text-anchor="end" textLength="13.82" lengthAdjust="spacingAndGlyphs">40</text><text x="50.6" y="172.44" text-anchor="end" textLength="13.82" lengthAdjust="spacingAndGlyphs">60</text><text x="50.6" y="149.39" text-anchor="end" textLength="13.82" lengthAdjust="spacingAndGlyphs">80</text><text x="50.6" y="126.33" text-anchor="end" textLength="20.73" lengthAdjust="spacingAndGlyphs">100</text><text x="50.6" y="103.28" text-anchor="end" textLength="20.73" lengthAdjust="spacingAndGlyphs">120</text><text x="50.6" y="80.22" text-anchor="end" textLength="20.73" lengthAdjust="spacingAndGlyphs">140</text><text x="50.6" y="57.16" text-anchor="end" textLength="20.73" lengthAdjust="spacingAndGlyphs">160</text><text x="50.6" y="34.11" text-anchor="end" textLength="20.73" lengthAdjust="spacingAndGlyphs">180</text><text x="50.6" y="11.05" text-anchor="end" textLength="20.73" lengthAdjust="spacingAndGlyphs">200</text></g><text font-family="Liberation Sans, sans-serif" stroke="#000" stroke-width="0.15" font-size="11.8" fill="#000" text-anchor="middle" transform="translate(21.3 99.9) rotate(-90)" textLength="100.5" lengthAdjust="spacingAndGlyphs">Heart Rate (bpm)</text><g clip-path="url(#c1)"><g transform="scale(.5)" fill="none" stroke="none"><path d="m119 672 0 18 0 8 0 16 0 3 0 10 0 2 0 6 0 2 0 3 0 2 0 11 1-105 0 13 0 24 0 5 0 6 0 2 0 10 0 6 0 0 0 3 0 2 0 0 0 1 0 1 0 1 0 1 0 7 0 2 0 1 0 1 0 0 0 1 0 0 0 1 0 0 0 0 0 1 0 1 0 1 0 0 0 1 0 0 0 2 0 5 0 9 0 1 0 1 0 2 0 5 0 11 0 6 0 10 1-131 0 24 0 9 0 15 0 4 0 0 0 1 0 4 0 5 0 2 0 2 0 0 0 1 0 0 0 0 0 0 0 0 0 4 0 6 0 0 0 4 0 0 0 1 0 7 0 0 0 0 0 1 0 2 0 3 0 4 0 1 0 8 0 14 1-138 0 25 0 14 0 2 0 5 0 1 0 3 0 3 0 12 0 2 0 0 0 0 0 1 0 0 0 1 0 7 0 0 0 3 0 0 0 1 0 1 0 4 0 1 0 3 0 0 0 1 0 0 0 4 0 2 0 1 0 0 0 5 0 3 0 3 0 2 1-117 0 9 0 8 0 2 0 5 0 9 0 2 0 4 0 23 0 1 0 1 0 1 0 3 0 1 0 0 0 7 0 2 0 3 0 6 0 2 0 2 0 0 0 2 0 2 0 2 0 1 0 2 0 1 0 1 0 5 0 6 0 2 0 1 0 0 0 2 0 1 0 0 0 3 0 3 0 2 0 9 1-100 0 22 0 15 0 8 0 2 0 0 0 2 0 4 0 0 0 0 0 0 0 2 0 0 0 1 0 1 0 1 0 1 0 2 0 1 0 0 0 0 0 1 0 1 0 3 0 1 0 1 0 1 0 0 0 1 0 5 0 3 0 3 0 0 0 14 0 3 1-145 0 6 0 10 0 22 0 25 0 15 0 1 0 1 0 0 0 4 0 3 0 1 0 5 0 0 0 2 0 1 0 2 0 1 0 2 0 4 0 0 0 1 0 3 0 0 0 3 0 1 0 5 0 0 0 0 0 5 0 8 0 2 0 3 0 13 1-138 0 13 0 1 0 1 0 17 0 8 0 4 0 12 0 10 0 0 0 2 0 11 0 3 0 2 0 1 0 1 0 4 0 2 0 2 0 2 0 1 0 1 0 1 0 11 0 5 0 1 0 8 0 3 0 2 1-121 0 6 0 16 0 12 0 3 0 8 0 3 0 8 0 1 0 1 0 1 0 2 0 2 0 4 0 0 0 2 0 1 0 3 0 4 0 1 0 3 0 0 0 6 0 2 0 1 0 1 0 1 0 2 0 0 0 1 0 5 0 0 0 1 0 5 0 2 0 33 1-131 0 11 0 0 0 2 0 9 0 2 0 9 0 1 0 0 0 4 0 0 0 5 0 5 0 10 0 3 0 0 0 1 0 1 0 1 0 1 0 2 0 0 0 14 0 2 0 8 0 3 0 0 0 4 0 10 0 10 1-145 0 16 0 25 0 8 0 20 0 1 0 7 0 3 0 11 0 18 0 2 0 14 1-130 0 73 0 1 0 2 0 7 0 1 0 2 0 2 0 2 0 1 0 7 0 3 0 5 0 13 0 11 0 5 0 1 1-126 0 29 0 10 0 6 0 15 0 9 0 4 0 0 0 1 0 12 0 6 0 3 0 8 0 14 1-94 0 6 0 22 0 2 0 1 0 14 0 19 0 1 0 3 0 7 0 3 0 4 0 23 0 7 1-130 0 0 0 14 0 17 0 2 0 12 0 8 0 1 0 11 0 4 0 0 0 1 0 4 0 13 0 4 0 17 0 20 1-100 0 3 0 1 0 2 0 4 0 4 0 2 0 7 0 8 0 4 0 6 0 14 0 2 0 7 0 28 1-105 0 17 0 1 0 6 0 11 0 1 0 3 0 19 0 1 0 1 0 3 0 0 0 11 0 20 0 16 1-125 0 27 0 11 0 11 0 5 0 3 0 3 0 10 0 3 0 3 0 5 0 1 0 9 0 12 0 5 1-70 0 3 0 1 0 2 0 6 0 3 0 8 0 4 0 7 0 4 0 24 1-89 0 34 0 3 0 3 0 1 0 8 0 2 0 1 0 5 0 5 0 8 0 0 1-105 0 65 0 13 0 1 0 8 0 1 0 2 0 7 0 11 0 2 0 16 1-116 0 36 0 1 0 1 0 9 0 12 0 0 0 1 0 3 0 9 0 4 0 0 0 5 0 2 0 2 0 9 0 0 0 2 0 18 1-102 0 32 0 1 0 9 0 3 0 5 0 3 0 6 0 9 0 1 0 28 0 26 1-93 0 4 0 6 0 6 0 6 0 5 0 4 0 1 0 10 0 7 0 4 0 11 1-62 0 2 0 3 0 2 0 6 0 6 0 8 0 0 0 1 0 15 0 29 1-104 0 23 0 18 0 3 0 7 0 6 0 2 0 16 0 6 0 1 0 0 0 13 0 2 0 2 1-72 0 1 0 2 0 13 0 8 0 1 0 6 0 2 0 8 0 2 0 24 1-63 0 16 0 2 0 4 0 6 0 8 0 4 1-37 0 9 0 15 0 4 0 6 0 7 0 2 1-56 0 2 0 11 0 1 0 18 0 13 0 5 0 15 0 5 1-89 0 33 0 4 0 16 0 6 0 6 0 17 0 3 0 10 0 19 1-88 0 8 0 11 0 1 0 0 0 0 0 2 0 1 0 3 0 20 0 4 0 7 0 3 0 1 0 3 0 6 0 32 1-120 0 11 0 0 0 2 0 2 0 7 0 13 0 1 0 9 0 3 0 6 0 9 0 0 0 1 0 13 0 1 1-65 0 7 0 9 0 4 0 7 0 1 0 8 0 1 0 2 0 24 0 1 1-90 0 23 0 12 0 17 0 2 0 4 0 2 0 0 0 3 0 12 0 5 0 16 0 10 0 40 1-106 0 3 0 6 0 5 0 0 0 4 0 2 0 1 0 8 0 8 0 6 0 13 1-93 0 23 0 24 0 0 0 15 0 4 0 9 0 11 1-74 0 5 0 25 0 4 0 6 0 22 0 4 0 7 1-57 0 10 0 6 0 1 0 2 0 8 0 6 0 4 0 3 0 34 1-76 0 28 0 10 0 0 0 4 0 4 0 5 0 5 0 1 0 1 0 10 1-100 0 10 0 9 0 10 0 1 0 3 0 2 0 2 0 4 0 2 0 0 0 8 0 8 0 1 0 2 0 1 0 1 0 0 0 2 0 12 0 8 0 1 0 2 0 3 0 4 0 8 1-60 0 3 0 6 0 13 0 6 0 3 0 2 0 10 0 21 0 34 1-92 0 10 0 7 0 9 0 3 0 15 1-75 0 18 0 5 0 6 0 18 0 10 0 12 0 31 1-89 0 5 0 9 0 23 0 25 0 16 1-68 0 5 0 3 0 4 0 8 0 10 0 22 0 1 0 6 1-102 0 36 0 16 0 13 0 3 0 2 0 3 0 1 0 39 0 9 1-82 0 5 0 9 0 0 0 13 0 0 0 35 1-79 0 26 0 12 0 1 0 0 0 8 0 2 0 7 0 1 0 11 0 7 0 16 1-91 0 20 0 4 0 15 0 8 0 3 0 18 0 0 0 9 0 8 1-81 0 13 0 12 0 1 0 1 0 2 0 22 0 4 0 10 1-74 0 9 0 8 0 19 0 6 0 1 0 7 0 9 0 6 0 0 0 3 0 4 0 13 0 2 1-111 0 28 0 21 0 0 0 0 0 5 0 2 0 9 0 1 0 18 0 2 0 15 0 3 0 6 1-64 0 4 0 0 0 6 0 2 0 20 0 11 0 6 0 7 0 14 1-127 0 44 0 24 0 3 0 16 0 27 0 3 1-99 0 17 0 9 0 20 0 6 0 35 1-69 0 29 0 10 0 2 0 6 0 2 0 13 0 12 1-90 0 41 0 17 0 7 0 8 0 5 1-49 0 1 0 15 0 3 0 7 0 9 0 38 0 2 0 3 1-40 1-14 0 30 0 0 0 32 2-95 0 17 0 5 0 8 0 2 0 11 0 1 0 23 0 3 0 1 1-46 0 19 0 37 1-59 0 24 0 18 0 5 1-63 0 24 0 6 0 4 1-10 0 4 0 9 0 8 0 4 0 22 1-90 0 23 0 7 0 5 0 23 0 2 0 9 0 18 1-59 0 6 0 21 0 6 0 15 0 1 1-41 0 3 0 4 0 4 0 2 1-32 0 11 0 0 0 0 0 39 0 2 1-81 0 14 0 17 0 4 0 21 0 12 0 4 1-60 0 36 0 35 0 32 1-104 0 35 0 16 0 14 0 5 0 32 1-68 0 4 0 2 1-51 0 16 0 23 0 10 0 0 0 6 0 4 0 6 0 5 0 3 0 14 0 5 0 13 1-106 0 19 0 22 0 19 0 4 1-30 0 3 0 20 0 28 0 19 1-56 0 0 0 30 1-44 0 5 0 23 0 1 0 3 0 3 0 9 1-32 0 17 0 30 0 14 1-115 0 39 0 6 0 2 0 29 0 5 1-57 0 19 0 33 1-36 0 12 0 2 0 3 0 2 0 18 0 23 0 1 0 2 1-51 0 3 0 2 0 9 0 8 0 40 0 0 1-58 0 2 0 5 0 28 0 16 1-88 0 39 0 7 0 3 0 8 0 1 0 4 0 0 0 4 0 21 1-48 0 33 0 17 1-55 0 9 0 31 1-49 0 17 0 2 0 1 0 9 1-48 0 29 0 4 0 2 0 4 0 11 0 3 0 8 1-41 0 1 0 9 0 2 0 6 0 18 0 8 0 8 1-79 0 5 0 57 0 4 0 3 0 5 1-42 0 23 0 8 0 19 1-72 0 23 0 1 0 3 0 4 1-42 0 25 0 11 0 3 0 1 0 11 0 8 0 24 1-104 0 29 0 40 0 18 0 3 0 2 0 2 0 18 1-98 0 16 0 7 0 7 0 61 0 13 1-81 0 18 0 18 0 19 0 1 0 6 1-77 0 6 0 20 0 4 0 23 0 19 1-69 0 24 0 29 0 11 0 1 0 5 0 2 1-76 0 8 0 25 0 10 0 18 0 2 0 8 1-65 0 15 0 32 0 10 0 1 0 20 0 11 0 9 0 0 1-77 0 8 0 9 0 25 0 14 1-56 0 42 0 11 0 8 0 5 1-79 0 6 0 25 0 6 0 11 0 2 0 21 0 1 1-100 0 68 0 7 0 0 0 10 0 3 1 32 1-85 0 4 0 17 0 3 0 1 0 5 0 7 0 9 0 34 1-100 0 6 0 35 0 4 0 5 0 22 0 19 1-103 0 56 0 17 0 4 0 10 0 0 0 16 1-65 0 22 0 2 0 13 0 0 0 2 0 6 0 27 1-123 0 50 0 18 0 3 0 18 0 0 0 6 1-71 0 21 0 7 0 11 0 15 0 4 0 9 0 21 1-77 0 15 0 0 0 9 0 0 0 5 0 5 0 16 0 3 0 8 0 18 1-91 0 6 0 1 0 12 0 13 0 72 0 3 1-91 0 26 0 5 0 8 0 13 0 1 0 23 1-78 0 43 0 16 0 1 0 11 1-5 1-61 0 18 0 9 0 1 0 4 0 3 0 19 0 3 1-72 0 9 0 13 0 5 0 0 0 16 0 43 0 4 1-70 0 6 0 19 0 9 1-20 0 34 0 16 1-59 0 2 0 7 0 5 0 6 0 3 0 2 0 11 0 27 0 12 0 5 1-59 1-34 0 3 0 25 0 22 0 12 0 17 1-94 0 42 0 2 0 7 0 5 0 22 0 7 0 1 1-92 0 8 0 23 0 8 0 5 0 2 0 1 0 3 0 17 0 7 0 3 1-84 0 26 0 6 0 23 0 1 0 0 0 3 0 35 1-69 0 35 0 7 1-57 0 41 0 4 0 5 0 27 0 35 1-106 0 49 0 4 0 2 1-60 0 27 0 5 0 5 0 11 0 10 0 1 0 1 0 22 0 5 1-63 0 12 0 1 0 56 1-87 0 35 0 16 0 6 0 11 1-114 0 54 0 37 0 5 0 24 0 11 0 3 0 8 1-112 0 16 0 5 0 4 0 1 0 21 0 21 0 13 0 7 1-68 0 4 0 52 0 12 1-73 0 37 0 11 0 15 0 21 0 13 1-122 0 36 0 0 0 12 0 8 0 2 1-13 0 8 0 10 0 5 0 8 0 0 0 1 0 18 1-54 0 43 0 9 0 12 0 3 1-42 0 0 0 14 1-29 0 4 0 1 0 5 0 5 0 17 0 3 0 2 0 40 1-72 0 2 0 6 0 6 0 3 0 10 0 31 1-69 0 2 0 1 0 27 0 30 0 10 1-93 0 14 0 7 0 33 0 18 1-88 0 29 0 1 0 18 0 7 0 1 0 4 0 23 0 3 0 27 1-102 0 24 0 27 1 1 0 15 0 2 0 1 0 8 1-53 0 27 0 7 0 9 0 22 1-41 0 10 0 10 0 13 0 25 1-61 0 5 0 4 0 23 0 6 0 5 1-65 0 12 0 49 0 0 0 1 1-69 0 7 0 9 0 39 0 0 0 17 0 10 1-92 0 11 0 38 0 21 1-43 0 10 1-23 0 76 1-49 0 17 0 1 0 2 0 6 1-55 0 3 0 11 0 10 0 2 0 4 0 4 0 4 1-52 0 64 0 2 0 14 1-77 0 41 0 6 0 25 0 3 1-23 1-33 0 8 1 9 1 9 1-5 0 15 0 16 1-22 0 20 0 19 1-28 1-14 0 22 0 17 1-53 0 50 0 1 1-75 0 15 0 10 0 2 0 4 0 27 0 16 1-57 1 8 1-18 0 34 0 2 0 13 0 24 1-68 0 32 0 33 1-68 0 9 0 15 0 5 0 19 0 18 1-57 0 27 0 18 1-66 0 15 0 13 0 24 0 3 1-9 1-32 0 8 0 15 0 16 0 1 1-53 0 5 0 58 0 6 0 6 1-73 0 33 0 11 0 10 0 20 1-65 0 19 0 19 0 4 0 9 1-31 0 8 0 3 1 34 1-50 0 36 0 16 1-46 0 35 1-29 1-13 0 12 0 3 0 7 0 30 1-108 0 53 0 34 0 1 1-73 0 54 1 30 0 9 1-30 0 6 0 1 0 1 0 6 0 1 0 4 0 12 0 5 2-113 0 57 0 0 0 38 1-61 1-32 0 35 0 7 0 14 0 2 0 25 1-57 0 50 0 9 1-48 0 41 1-60 0 32 0 13 0 2 0 3 0 15 0 0 1-34 1-6 0 17 0 39 1-54 0 46 0 8 1-36 0 12 1-61 0 15 0 7 0 29 0 43 1-73 0 14 0 4 1-47 0 28 0 19 0 13 0 12 0 3 1-17 1-26 0 38 0 14 1-53 0 6 0 23 1 46 0 4 1-78 0 15 0 16 0 14 1-63 0 33 0 9 0 25 1 35 1-62 1-9 0 4 0 5 0 12 1-20 0 8 0 49 0 16 1-124 0 71 1-44 0 7 1 40 0 2 0 3 0 7 1-56 0 7 0 38 0 3 0 6 0 12 1-73 1-38 0 40 0 37 0 13 0 9 1-46 0 9 0 23 0 12 0 20 1-67 0 60 1-62 0 38 0 17 1-57 0 12 0 16 0 9 0 5 0 3 0 11 1-71 0 8 0 24 0 27 0 39 1-107 0 14 0 28 0 40 1-77 0 22 0 35 0 6 0 17 1-50 0 12 0 83 1-127 0 13 0 39 0 20 0 21 1-26 1-67 1 48 0 32 1-90 0 29 0 24 0 7 0 5 0 8 1-67 0 83 0 1 1-43 0 13 0 10 0 0 0 13 1-70 0 7 0 91 1-58 0 1 0 25 1-45 0 5 0 12 0 16 0 5 1-66 0 53 0 18 1-43 0 7 0 6 0 13 0 15 0 2 1-47 0 2 0 36 0 3 0 12 0 5 1-58 0 25 0 19 0 2 0 3 1-56 0 11 0 19 0 23 1-42 1 7 0 13 0 10 0 17 0 27 1-114 0 44 0 41 0 0 0 3 0 4 0 4 1-77 1 21 0 11 0 18 0 4 0 3 0 11 0 3 1 3 1-65 0 1 0 28 0 14 0 5 0 3 0 1 2 28 1-85 0 56 0 24 1-46 0 51 0 11 1-118 0 31 0 32 1-42 0 26 0 8 1-12 0 15 0 10 1 0 0 5 1-41 0 43 0 8 0 30 1-75 0 15 0 21 1-2 1-44 0 29 0 0 0 16 0 15 1-53 0 3 0 26 0 2 0 5 0 1 0 13 1-83 0 50 1-20 0 39 0 25 1-64 0 35 0 42 1-71 0 14 0 19 0 42 1-73 0 8 0 18 1-31 0 31 0 14 1-28 0 15 1-41 0 34 1-4 0 0 0 28 1-105 0 71 0 21 0 18 0 4 1-39 0 5 0 19 0 14 1-55 0 9 0 27 0 0 0 35 1-81 0 36 1-46 0 3 0 9 0 15 0 13 0 11 0 1 0 9 0 20 0 3 1-75 0 26 0 16 0 2 0 1 1-64 0 32 0 57 1-44 0 8 0 2 0 3 0 14 0 8 1-37 0 41 1-44 0 1 1-22 0 9 1 14 0 8 0 12 0 29 0 7 1-31 1-44 0 2 0 5 0 47 0 2 0 4 1-2 0 1 0 1 1-46 0 4 0 1 0 16 0 10 0 1 0 16 1-28 0 2 0 7 0 20 1-55 0 17 0 36 1-56 0 11 0 27 0 10 0 8 0 8 1-27 0 1 0 12 0 5 0 0 0 3 0 9 1-28 0 20 1-73 0 48 0 4 0 5 1-23 0 5 0 0 0 20 0 5 2-28 0 9 0 6 0 9 0 3 0 45 1-113 0 25 0 13 0 6 0 19 0 3 1-39 0 24 0 2 0 0 0 10 0 3 0 5 0 14 1-64 2 29 0 40 1-88 0 40 0 12 1 8 1-81 0 22 0 47 0 9 1 37 0 3 1-52 0 6 1-31 0 19 0 14 0 3 0 6 1-34 1-38 0 16 0 48 0 4 1-53 0 41 0 5 0 25 0 11 1-62 0 20 0 5 1-63 0 59 0 4 0 2 0 3 1 5 1-34 0 9 0 14 0 2 0 1 0 7 0 15 0 16 1-120 0 66 0 8 0 8 1-57 0 30 0 1 0 23 0 3 1-13 0 18 0 13 1-74 0 6 0 18 0 15 1-40 0 26 0 2 0 2 0 17 0 9 2-78 0 76 0 21 1-78 0 14 0 44 1-50 0 44 1-5 1-3 1-61 0 24 0 47 0 2 1-26 1-16 0 29 0 9 0 10 1-25 0 32 0 2 0 10 1-60 0 12 0 11 1-17 0 18 0 23 0 22 0 7 1-7 0 4 1-63 0 13 1-33 1 25 0 8 0 42 1-44 0 2 0 13 0 17 0 11 0 14 1-30 1-38 0 83 1-74 0 17 1 14 1-31 0 5 0 16 0 6 1-90 0 18 0 67 0 5 0 14 1-72 0 12 1 6 0 15 0 50 2-48 0 21 1-45 0 12 1-36 0 49 0 12 0 57 1-127 0 27 0 12 0 36 0 11 1-47 0 6 0 30 0 2 0 2 1 5 1-33 0 7 1 67 1-110 0 50 0 8 1-76 0 28 0 52 2-84 0 44 0 7 1-6 0 44 1-98 0 71 0 43 1-138 1 120 0 18 1-50 0 0 1 18 3 0 0 31 0 16 1-63 0 23 0 9 1-30 0 29 1-53 0 37 0 13 0 13 1-83 0 36 0 36 1-44 0 10 0 5 0 29 1-56 0 37 0 11 0 5 1-48 1 19 1-40 0 8 0 5 0 16 0 55 0 18 1-14 1-63 0 46 1-41 0 29 0 14 1-61 0 39 0 4 0 10 0 61 1-61 0 21 1-59 0 15 1-10 1-7 0 41 1-37 0 22 0 16 0 44 3-101 0 22 0 30 0 13 1-73 0 35 0 17 0 27 1-64 0 6 1 6 0 9 0 42 1-45 0 44 0 8 1-63 0 29 0 23 0 1 1-75 0 29 1 46 1-41 0 27 0 9 0 27 1-44 1 4 1-55 0 29 0 25 0 8 1-25 0 12 0 7 0 4 0 9 1-58 0 39 0 6 0 6 1-7 0 16 1-17 0 22 1-20 1-31 0 30 0 20 1-54 0 8 0 35 1-101 0 53 0 28 0 33 0 14 1-84 0 35 0 15 0 2 1-75 0 52 0 14 1-66 0 49 0 28 1-16 0 7 1-83 0 50 0 16 1-7 0 20 0 1 0 30 1-28 0 0 0 7 0 7 0 26 1-86 0 50 0 18 1-46 0 17 1 14 0 2 0 0 0 10 0 15 1-70 0 1 0 4 0 27 0 19 0 12 1-49 0 14 0 15 1-36 0 6 0 18 0 52 1-46 0 18 0 30 1-77 0 14 1-29 0 12 0 42 1-21 1-42 0 61 2-63 0 30 0 44 1-33 0 28 1-43 0 23 0 29 1-49 0 53 1-45 1-48 0 56 0 7 0 9 0 25 1-48 0 25 1-96 0 84 0 25 0 4 1-46 0 34 0 11 1-28 0 7 0 15 1-67 0 2 0 5 0 20 0 0 0 11 0 39 0 7 1-40 0 7 1-49 0 27 0 8 0 4 1-24 0 17 0 1 0 14 1-76 0 53 0 1 0 44 0 11 1-54 0 24 0 25 1-40 0 15 1-40 0 87 1-96 0 23 0 27 0 8 0 2 0 14 1-26 0 24 1-27 0 24 0 40 1-107 0 9 0 8 0 20 1-25 0 28 0 14 1-35 0 2 0 23 0 39 1-8 1-90 0 45 1 1 0 38 0 21 1-56 0 4 0 11 0 8 0 12 0 0 0 8 1-56 0 4 0 24 0 23 1-55 0 19 1 19 0 1 1-33 0 2 0 3 0 18 1-49 0 68 0 17 1-35 1-94 0 97 1-55 0 4 0 32 0 3 1-25 0 7 0 9 0 38 1 39 1-77 0 1 1 2 0 18 0 10 1-60 0 33 0 38 1-58 0 29 0 20 1-60 0 59 1-44 0 14 0 6 1-26 0 14 0 19 1-54 0 60 1-11 1-103 0 89 0 7 0 8 0 15 1-20 1-91 0 122 1-68 0 10 0 13 0 21 0 12 0 17 1-26 1-40 0 4 0 9 0 12 0 21 1-35 0 75 1-49 0 23 1-62 0 24 0 9 0 15 1-67 0 34 0 56 1-78 0 33 0 5 0 21 1-74 0 6 0 48 0 11 0 4 2-48 0 41 1-28 0 37 0 23 1-34 0 5 1-69 0 62 0 3 0 20 0 10 0 9 0 13 1-47 0 47 1-133 0 21 1 44 0 4 0 1 1-75 0 44 0 23 0 3 0 5 0 37 1-92 0 18 0 73 1-33 1-34 0 23 0 12 0 58 1-96 0 39 1-29 0 17 0 55 0 9 1-45 1 2 0 18 0 17 1-53 0 12 0 22 0 20 1-103 1-12 0 64 0 34 0 13 1-97 0 0 0 18 0 34 0 11 0 4 0 7 0 28 0 9 1-63 0 17 1-31 1 2 0 27 0 12 0 5 1-39 0 17 0 58 1-143 0 53 0 55 1-76 1 57 0 2 0 22 0 18 1-83 0 25 0 23 1-48 1-17 0 47 0 4 1-36 0 14 0 11 0 27 0 1 1-80 0 22 0 14 0 4 0 8 0 1 0 10 1-83 0 68 0 18 0 4 0 1 0 5 1-63 0 47 0 9 0 7 0 5 1 16 0 9 0 15 1-57 0 44 2-83 0 11 0 29 1-12 0 10 0 25 1-33 0 53 1-50 0 16 0 2 0 38 1-87 0 38 0 12 1-62 0 67 1-85 0 49 0 4 0 19 1-19 0 24 0 4 0 17 0 2 1-43 0 8 0 24 0 13 0 22 1-58 0 25 0 35 1-98 0 25 1-39 0 33 0 8 0 10 0 13 1 9 2-55 0 27 0 2 0 6 0 10 0 4 0 7 0 15 0 6 1-27 0 14 1-80 0 47 0 58 1-47 1 22 0 7 1-77 0 12 0 5 0 48 1-20 0 3 0 38 1-93 1 1 0 36 0 6 0 15 0 23 1-27 0 26 1 3 0 20 1-60 0 1 0 27 0 17 1-78 0 43 0 9 1-20 1-68 0 28 0 15 0 23 1-14 0 4 0 4 1 36 0 3 1-74 0 50 1 10 2-18 0 11 0 18 1-3 1-19 0 13 0 26 0 5 1-72 0 7 0 2 0 47 1-67 0 35 0 3 1-20 0 17 0 4 0 8 0 17 0 15 1-51 0 2 0 3 1-6 0 3 1-10 1 9 0 22 0 36 1-112 0 38 0 8 0 35 1 43 2-107 0 13 0 11 0 6 1-7 0 3 0 22 0 19 0 16 1-95 0 60 1-31 0 1 0 2 0 33 0 21 1-69 1-11 0 37 0 22 1-11 1-34 0 26 0 41 1-41 0 23 1-31 0 6 0 34 1-87 0 30 1-21 0 0 0 39 0 2 0 4 0 3 1-24 0 10 0 12 0 1 0 17 2-77 0 30 0 20 0 30 0 13 0 4 0 11 1-80 0 20 0 29 0 17 0 23 1-41 0 3 1-38 0 0 0 33 0 22 0 11 1-106 0 39 0 14 0 33 0 22 1-43 0 16 1-63 0 21 0 91 1-17 1-95 0 4 0 59 0 21 1-92 0 48 0 6 0 41 1-29 0 17 0 5 1-74 0 18 1-37 0 97 0 23 0 6 1-67 0 5 1-34 0 54 0 0 0 5 1-70 0 45 0 2 0 2 0 18 1-72 0 58 0 12 1-13 0 3 0 13 1-14 1-20 1 14 0 53 1-83 0 10 0 1 0 16 0 30 1-17 1-70 0 27 0 16 0 9 0 3 0 62 1-80 0 26 0 5 0 16 2-67 0 37 0 3 0 4 0 18 0 36 1-113 0 4 1 62 0 80 1-57 1-71 0 17 0 9 0 9 0 6 0 11 1-22 0 26 0 24 0 1 0 1 1-69 1 45 1-55 0 5 0 7 0 9 0 25 0 39 1-47 0 2 1-19 0 27 0 4 1-35 0 25 1 13 1-8 1-41 1-34 0 28 0 22 0 1 0 12 0 14 1-126 0 12 0 73 0 24 0 6 0 13 1-63 0 27 0 39 1-132 0 67 0 45 0 4 1-42 0 13 0 43 1-43 0 13 1-1 0 17 0 8 0 6 1-83 0 31 0 3 0 72 1-67 0 11 0 3 0 14 0 21 1-53 0 32 0 9 0 12 1-68 0 50 0 37 1-64 1 19 0 13 1-48 0 38 0 19 0 15 0 6 1-82 0 69 0 4 1-8 0 7 1-31 0 10 0 27 0 27 1-127 0 52 0 6 0 30 1-66 0 3 0 34 1-30 0 83 1-75 0 20 0 11 0 34 0 11 1-70 0 0 0 12 0 2 0 14 0 9 1-62 0 7 0 36 1 6 1-51 0 22 0 21 0 4 0 2 0 43 1-50 1-52 0 71 0 20 1-120 0 49 0 72 1-41 0 5 0 27 1-58 1 25 0 21 1-29 0 7 0 34 1-21 0 26 1-86 0 66 0 12 1-89 0 33 0 57 1-39 1 13 1-18 0 17 1-44 0 53 0 13 0 8 0 14 1-87 0 52 0 7 0 6 1-13 1-58 0 76 1-81 0 52 1 9 0 10 1 1 1-87 0 39 0 2 1 12 0 10 0 1 0 37 1-78 0 55 0 18 1-81 0 22 0 15 0 41 1-72 0 6 0 16 0 7 1 12 0 22 0 27 1-31 1 17 1-68 0 24 0 5 0 57 1-76 0 32 1-74 0 40 0 9 0 20 0 10 1-23 0 48 1-78 0 7 0 12 1 26 0 26 0 3 1-79 1 8 0 61 0 3 0 28 1-59 0 41 1-35 1 7 0 15 0 36 1-35 1-14 1-15 0 25 1 37 1-85 0 24 0 12 1-51 0 39 0 34 0 13 2-109 0 72 0 30 0 19 1-80 0 43 1-20 0 7 0 21 0 31 2-88 0 69 1-84 0 19 1 18 1-18 0 5 0 41 1-55 0 28 0 12 0 13 0 3 0 10 1-27 0 14 0 1 2-37 0 47 0 12 0 10 0 8 1-93 0 66 0 11 1-82 0 6 0 7 0 36 0 21 1-75 0 8 0 40 0 24 0 3 1-52 0 32 1-14 0 12 0 28 0 1 1-76 0 6 0 4 0 46 0 5 0 32 1-42 0 16 0 4 0 5 0 3 1-48 0 13 1 13 0 13 0 39 1-79 0 12 0 38 1-50 1-1 0 14 1 3 0 1 1-16 0 34 1-71 0 59 0 1 1-23 0 14 0 14 0 10 0 19 2-111 0 33 0 0 0 27 1-24 0 16 0 8 0 12 0 2 0 35 1-100 0 32 0 4 0 21 0 28 1-23 1-36 0 43 1-10 0 23 1-53 0 29 0 12 0 18 1-54 0 132 1-160 0 48 0 4 1-26 0 18 0 21 1-51 0 36 0 2 0 10 0 42 1-101 0 23 0 26 0 9 1 9 0 8 0 41 1-116 0 64 1-78 0 74 0 11 0 1 1-61 0 50 1-79 0 15 0 19 0 11 0 25 0 4 0 43 1-82 0 13 0 50 4-19 1-15 1-31 0 17 0 26 1-23 0 17 0 7 1-45 0 11 0 7 0 2 0 66 1-94 0 36 0 0 0 12 0 29 1-68 0 15 1-59 0 56 0 3 0 20 1-36 0 14 0 36 1-50 0 52 0 0 0 31 1-64 0 14 1 67 1-128 0 83 0 9 2-53 0 36 1-30 1-2 0 18 0 3 1 46 1-59 0 10 0 26 1-54 0 11 0 61 0 5 1-102 0 1 0 103 1-63 0 41 1-75 0 48 1-43 0 9 0 45 0 6 1-92 0 24 0 35 0 16 0 22 0 13 1-53 0 31 1-18 0 18 1 7 1-64 0 10 0 24 0 8 0 7 0 5 1-21 0 32 1-83 0 70 1 9 0 4 0 10 0 21 1-98 0 12 0 51 0 21 1-29 0 4 1 40 1-111 0 34 0 28 0 20 1-80 0 51 0 36 1-51 0 15 0 32 1-86 0 24 0 1 0 14 0 39 1-86 0 45 0 2 0 14 0 92 2-161 0 17 0 73 0 14 1-71 0 16 0 1 0 33 0 8 1-60 0 28 0 31 0 22 1-41 1-7 0 9 0 2 1-17 0 46 2-62 0 14 0 11 0 20 0 1 0 12 0 4 0 8 1-45 0 9 0 9 0 12 2-59 1-14 0 63 0 37 1-114 0 29 0 35 0 25 0 25 1-129 0 12 0 62 1 9 0 17 1-33 0 11 1-10 0 22 0 3 0 10 0 23 1-77 0 10 0 17 0 19 1-47 0 40 0 3 0 23 1-92 0 43 0 1 0 4 0 19 0 29 1-29 0 15 0 24 1-20 1-88 0 57 0 23 1-20 0 25 0 4 1 6 2-88 0 27 0 23 0 80 1-107 0 23 0 21 1-50 0 48 1 7 1-44 1-3 0 8 0 2 0 3 0 13 0 18 0 1 1-51 0 63 1-84 1 25 0 24 0 8 0 66 1-105 0 26 0 35 2 5 1-40 1-2 0 17 0 26 0 9 0 21 1-52 0 7 0 1 0 4 0 55 1-115 1 94 1-77 0 5 0 5 0 23 0 9 1-60 0 100 1-96 0 49 0 15 0 11 1-54 0 30 0 5 0 14 1-94 0 59 0 6 0 34 1-60 0 31 0 19 0 14 1-22 1-58 0 19 0 35 0 5 1-38 1-11 0 0 0 8 0 14 0 15 0 21 1-80 0 4 0 38 0 20 0 6 1-86 0 7 1-8 0 76 0 4 0 21 0 21 1-58 0 17 1-30 0 42 1-13 1-27 0 5 0 1 0 26 0 1 1-35 0 45 0 14 1-21 0 13 1-53 1-17 0 15 0 53 2-50 0 15 0 13 0 50 1-80 0 1 1 16 0 38 0 1 1-47 0 11 0 23 0 16 1-71 0 20 0 13 1-35 1-60 0 62 1-46 0 50 0 27 1 36 1-11 0 6 1-59 0 13 0 15 1 24 1-73 0 25 0 6 0 7 0 51 0 24 1-122 0 36 0 46 1 20 0 1 1-77 0 54 1-29 0 60 1-92 0 19 0 11 0 10 0 5 2-52 0 3 0 32 0 0 0 15 1-28 0 7 1 22 1 19 1-49 0 28 0 19 1-51 0 4 1 16 1-30 0 18 1 4 0 19 0 15 1-77 0 78 1-32 1 20 0 8 0 7 0 1 0 28 1-57 0 1 1-56 0 49 0 12 1-75 0 16 0 59 1-46 0 26 0 10 1 6 1-70 0 53 0 13 0 12 1-19 1-26 0 29 1 31 0 13 1-66 0 1 0 23 0 11 1-48 0 14 0 46 0 2 1-37 0 99 1-60 1-62 0 18 0 43 0 25 0 16 1-55 1-36 0 61 2 7 0 29 1-127 0 41 0 90 2-123 0 21 0 53 0 5 0 7 0 5 1-54 0 15 0 58 1-85 0 44 1-46 0 9 0 30 0 7 0 34 1-67 0 5 0 33 0 17 0 3 1-17 0 18 0 17 1-90 0 46 0 11 0 32 1-83 1-28 0 58 0 23 0 5 1-13 0 5 2-56 0 4 0 19 0 45 1-52 0 4 0 41 0 18 1-44 0 32 1-11 0 7 1 7 1-54 0 35 0 7 0 10 0 5 1-111 0 61 0 25 0 38 2-104 1 29 0 26 0 8 1-27 1 6 0 6 0 6 0 23 0 7 1-65 0 28 1-14 0 7 0 57 1-22 0 4 0 10 1-116 0 92 1-85 0 48 0 9 0 58 0 2 1-26 2-34 0 28 1-27 0 35 1-16 0 10 0 36 1-75 0 9 0 2 0 13 0 12 0 30 0 7 1-104 0 18 0 10 0 27 0 6 0 10 0 9 0 25 1-35 0 20 0 40 1-98 0 49 0 14 1-63 0 41 0 14 1-31 0 2 0 13 2 20 1-79 0 20 0 22 0 35 1-29 0 53 1-101 0 7 1 3 0 14 0 17 0 23 1-27 0 29 0 7 0 1 1-66 0 35 0 13 0 5 0 15 1-13 0 18 0 46 1-116 0 53 0 15 1-63 0 8 0 100 1-124 0 24 0 45 1-62 0 14 1 14 0 30 1-67 0 33 0 2 1 91 1-167 2 108 1-29 0 40 1-59 0 28 0 11 0 18 1-71 0 41 1-17 0 25 1-88 0 103 0 0 0 6 1-56 0 43 1-57 0 11 0 24 1-50 0 48 0 56 1-74 1 28 1-1 1-41 0 7 0 11 0 8 0 29 0 30 1-98 0 6 0 27 1 10 0 19 0 42 1-65 0 44 1-21 1-1 0 10 0 11 1-56 0 16 0 7 0 34 0 4 1-74 0 54 1-26 0 0 0 11 0 11 0 24 1-14 1-50 0 39 0 19 1-16 0 2 1-41 0 31 1 15 0 22 1-57 0 21 1-21 1-8 1-43 0 32 0 13 0 16 0 14 1-41 0 24 0 34 1-19 1-72 0 72 1-24 1-35 1 30 0 37 0 14 1-16 1 18 1-56 0 45 1 4 1-75 0 30 0 27 1 31 1-57 1-54 0 5 0 85 0 10 0 38 1-77 0 54 1-95 0 61 1-25 0 61 1-64 2 26 0 21 1-26 0 64 2-114 0 35 0 72 1-86 0 10 0 21 0 2 0 32 0 4 1-99 0 21 0 68 1-43 0 22 1 1 0 10 0 3 0 33 1-121 0 19 0 13 0 74 1-103 0 39 1 36 0 22 1-37 0 5 0 15 1 22 1-53 0 10 0 42 1-73 0 47 0 5 1 13 1-53 1 25 0 13 1 15 1-64 0 8 0 8 0 15 0 30 1-29 0 17 0 6 0 12 1-28 0 2 1-69 0 68 0 17 1-44 0 19 0 4 0 0 1-22 0 28 0 13 0 5 0 11 1-39 0 14 1 25 1-32 0 22 1-38 0 2 0 19 0 12 0 7 1-46 0 86 1-108 0 24 0 24 0 31 1-115 0 95 1-77 0 75 0 5 1-18 1-8 0 16 0 90 1-100 0 73 1-114 0 68 2-83 2-15 1 80 1-59 0 15 0 108 1-63 1 60 2-118 0 5 0 9 0 24 0 30 0 22 1-94 0 23 0 66 1-90 0 42 1-80 0 114 0 9 0 27 1-153 0 91 0 10 0 9 1-35 1 4 0 5 1 20 0 18 0 41 3-136 0 73 0 5 1 30 1-104 0 19 0 82 0 4 1-113 1 7 0 34 0 44 0 0 1-29 0 1 0 46 1-18 1-43 1-29 1 109 0 24 1-71 0 15 1-49 0 31 0 11 2-52 0 32 0 49 1-59 3 6 1 27 1-3 1-26 0 19 1-36 0 44 0 26 2-69 1 18 2-20 0 15 0 13 0 9 0 29 1-71 0 41 1-87 0 99 0 5 0 15 0 6 1-20 0 67 1-81 0 26 0 16 0 23 1-86 0 1 0 0 0 47 0 20 1-81 0 23 0 36 3-60 0 89 1-139 0 35 2 73 1-109 0 101 0 13 1-30 1-61 0 31 0 9 0 20 0 23 0 17 0 25 1-154 0 109 0 10 1-92 0 91 2-55 0 66 1-17 0 19 1-43 0 4 1 13 1-8 0 26 1-45 0 13 0 6 0 14 0 45 1-114 0 2 0 22 0 14 1 5 0 42 0 13 1-98 0 23 1 39 1-83 0 49 0 20 0 2 0 32 1-16 1-34 1 26 0 2 1 8 0 1" marker-start="url(#mk)" marker-mid="url(#mk)" marker-end="url(#mk)"/></g><path d="M59.6 351.25 L64.34 350.74 L69.09 350.23 L73.83 349.73 L78.57 349.23 L83.32 348.74 L88.06 348.26 L92.8 347.77 L97.54 347.3 L102.29 346.83 L107.03 346.36 L111.77 345.9 L116.52 345.45 L121.26 345 L126 344.55 L130.75 344.11 L135.49 343.68 L140.23 343.25 L144.98 342.83 L149.72 342.41 L154.46 342 L159.2 341.59 L163.95 341.19 L168.69 340.79 L173.43 340.4 L178.18 340.01 L182.92 339.63 L187.66 339.25 L192.41 338.88 L197.15 338.52 L201.89 338.16 L206.64 337.8 L211.38 337.45 L216.12 337.11 L220.86 336.77 L225.61 336.43 L230.35 336.11 L235.09 335.78 L239.84 335.46 L244.58 335.15 L249.32 334.84 L254.07 334.54 L258.81 334.24 L263.55 333.95 L268.29 333.67 L273.04 333.38 L277.78 333.11 L282.52 332.84 L287.27 332.57 L292.01 332.31 L296.75 332.06 L301.5 331.81 L306.24 331.56 L310.98 331.32 L315.73 331.09 L320.47 330.86 L325.21 330.64 L329.95 330.42 L334.7 330.21 L339.44 330 L344.18 329.8 L348.93 329.6 L353.67 329.41 L358.41 329.22 L363.16 329.04 L367.9 328.86 L372.64 328.69 L377.39 328.53 L382.13 328.37 L386.87 328.21 L391.61 328.06 L396.36 327.92 L401.1 327.78 L405.84 327.64 L410.59 327.52 L415.33 327.39 L420.07 327.27 L424.82 327.16 L429.56 327.05 L434.3 326.95 L439.05 326.86 L443.79 326.76 L448.53 326.68 L453.27 326.6 L458.02 326.52 L462.76 326.45 L467.5 326.38 L472.25 326.32 L476.99 326.27 L481.73 326.22 L486.48 326.17 L491.22 326.14 L495.96 326.1 L500.71 326.07 L505.45 326.05 L510.19 326.03 L514.93 326.02 L519.68 326.01 L524.42 326.01 L529.16 326.01 L533.91 326.02 L538.65 326.03 L543.39 326.05 L548.14 326.08 L552.88 326.11 L557.62 326.14 L562.37 326.18 L567.11 326.23 L571.85 326.28 L576.59 326.33 L581.34 326.39 L586.08 326.46 L590.82 326.53 L595.57 326.61 L600.31 326.69 L605.05 326.78 L609.8 326.87 L614.54 326.97 L619.28 327.07 L624.03 327.18" stroke="#0000ff" stroke-width="2.1" fill="none"/><g fill="none" stroke="#000" stroke-width="1.6"><path d="M59.6 340.12 L85.65 340.12 L85.65 337.58 L139.15 337.58 L139.15 330.88 L219.4 330.88 L219.4 326.96 L326.4 326.96 L326.4 321.41 L379.9 321.41 L379.9 308.94 L623.33 308.94" stroke-dasharray="6.3 2.7"/><path d="M59.6 358.48 L85.65 358.48 L85.65 349.36 L139.15 349.36 L139.15 343.35 L219.4 343.35 L219.4 337.12 L326.4 337.12 L326.4 331.69 L379.9 331.69 L379.9 320.6 L623.33 320.6"/><path d="M59.6 377.07 L85.65 377.07 L85.65 360.9 L139.15 360.9 L139.15 356.75 L219.4 356.75 L219.4 347.97 L326.4 347.97 L326.4 342.43 L379.9 342.43 L379.9 333.08 L623.33 333.08" stroke-dasharray="6.3 2.7"/></g></g><rect x="59.5" y="229.5" width="561.8" height="184.75" fill="none" stroke="#000" stroke-width="0.9"/><path d="M59.6 414.25v3.96M193.35 414.25v3.96M327.1 414.25v3.96M460.85 414.25v3.96M594.6 414.25v3.96M59.5 414.25h-3.96M59.5 391.16h-3.96M59.5 368.06h-3.96M59.5 344.97h-3.96M59.5 321.88h-3.96M59.5 298.78h-3.96M59.5 275.69h-3.96M59.5 252.59h-3.96M59.5 229.5h-3.96" stroke="#000" stroke-width="0.9"/><g font-family="Liberation Sans, sans-serif" stroke="#000" stroke-width="0.15" font-size="11.8" fill="#000"><text x="59.3" y="430.85" text-anchor="middle">0</text><text x="193.05" y="430.85" text-anchor="middle">5</text><text x="326.8" y="430.85" text-anchor="middle" textLength="13.82" lengthAdjust="spacingAndGlyphs">10</text><text x="460.55" y="430.85" text-anchor="middle" textLength="13.82" lengthAdjust="spacingAndGlyphs">15</text><text x="594.3" y="430.85" text-anchor="middle" textLength="13.82" lengthAdjust="spacingAndGlyphs">20</text><text x="50.6" y="418.15" text-anchor="end" textLength="13.82" lengthAdjust="spacingAndGlyphs">40</text><text x="50.6" y="395.06" text-anchor="end" textLength="13.82" lengthAdjust="spacingAndGlyphs">60</text><text x="50.6" y="371.96" text-anchor="end" textLength="13.82" lengthAdjust="spacingAndGlyphs">80</text><text x="50.6" y="348.87" text-anchor="end" textLength="20.73" lengthAdjust="spacingAndGlyphs">100</text><text x="50.6" y="325.77" text-anchor="end" textLength="20.73" lengthAdjust="spacingAndGlyphs">120</text><text x="50.6" y="302.68" text-anchor="end" textLength="20.73" lengthAdjust="spacingAndGlyphs">140</text><text x="50.6" y="279.59" text-anchor="end" textLength="20.73" lengthAdjust="spacingAndGlyphs">160</text><text x="50.6" y="256.49" text-anchor="end" textLength="20.73" lengthAdjust="spacingAndGlyphs">180</text><text x="50.6" y="233.4" text-anchor="end" textLength="20.73" lengthAdjust="spacingAndGlyphs">200</text></g><text font-family="Liberation Sans, sans-serif" stroke="#000" stroke-width="0.15" font-size="11.8" fill="#000" text-anchor="middle" transform="translate(21.3 317.45) rotate(-90)" textLength="179.6" lengthAdjust="spacingAndGlyphs">Systolic Blood Pressure (mm Hg)</text><g clip-path="url(#c2)"><g transform="scale(.5)" fill="none" stroke="none"><path d="m119 1095 0 5 0 34 0 8 0 5 0 2 0 1 0 12 0 4 0 10 0 16 0 19 1-105 0 1 0 16 0 1 0 2 0 6 0 5 0 4 0 7 0 0 0 2 0 1 0 2 0 7 0 4 0 5 0 2 0 1 0 1 0 2 0 0 0 2 0 1 0 1 0 2 0 0 0 2 0 0 0 1 0 2 0 8 0 1 0 5 0 0 0 7 0 0 0 1 0 1 0 6 0 2 0 3 0 18 1-145 0 4 0 31 0 2 0 0 0 1 0 0 0 3 0 1 0 6 0 0 0 3 0 1 0 8 0 6 0 0 0 1 0 3 0 6 0 25 0 3 0 3 0 1 0 4 0 1 0 2 0 1 0 15 0 7 0 4 0 12 1-166 0 10 0 29 0 4 0 2 0 2 0 0 0 3 0 6 0 3 0 13 0 3 0 1 0 2 0 1 0 3 0 1 0 6 0 4 0 5 0 0 0 4 0 3 0 4 0 4 0 4 0 14 0 1 0 2 0 3 0 10 0 12 0 18 0 17 1-225 0 36 0 5 0 16 0 4 0 2 0 14 0 2 0 6 0 2 0 1 0 3 0 0 0 2 0 4 0 4 0 3 0 6 0 1 0 1 0 0 0 4 0 2 0 3 0 2 0 12 0 3 0 3 0 0 0 10 0 1 0 12 0 2 0 3 0 4 0 6 0 2 0 3 0 14 0 4 0 5 1-183 0 32 0 12 0 5 0 1 0 1 0 3 0 10 0 1 0 3 0 4 0 2 0 2 0 3 0 1 0 0 0 2 0 0 0 2 0 0 0 2 0 6 0 6 0 4 0 9 0 1 0 4 0 5 0 0 0 2 0 4 0 17 0 1 0 24 0 6 1-200 0 15 0 37 0 15 0 0 0 5 0 0 0 1 0 7 0 15 0 0 0 7 0 6 0 2 0 0 0 15 0 12 0 0 0 3 0 1 0 6 0 0 0 11 0 0 0 3 0 1 0 1 0 1 0 3 0 2 0 1 0 6 0 0 0 7 1-150 0 2 0 31 0 8 0 4 0 5 0 5 0 1 0 1 0 7 0 4 0 7 0 1 0 3 0 2 0 6 0 8 0 4 0 4 0 3 0 0 0 8 0 5 0 2 0 2 0 12 0 1 0 27 1-143 0 13 0 1 0 4 0 1 0 1 0 0 0 1 0 6 0 10 0 5 0 6 0 3 0 3 0 1 0 4 0 2 0 2 0 1 0 1 0 1 0 2 0 7 0 5 0 6 0 2 0 4 0 8 0 0 0 6 0 4 0 10 0 15 0 3 0 2 0 23 1-192 0 15 0 1 0 2 0 11 0 13 0 3 0 9 0 2 0 4 0 0 0 0 0 19 0 4 0 4 0 5 0 11 0 5 0 1 0 0 0 3 0 4 0 3 0 1 0 5 0 5 0 2 0 8 0 6 0 33 1-121 0 6 0 6 0 12 0 3 0 0 0 4 0 3 0 2 0 24 0 7 0 21 1-127 0 27 0 14 0 4 0 10 0 12 0 9 0 2 0 2 0 19 0 1 0 7 0 5 0 3 0 12 0 5 0 21 1-114 0 5 0 0 0 4 0 6 0 10 0 4 0 9 0 2 0 0 0 19 0 6 0 3 0 14 1-148 0 21 0 14 0 0 0 30 0 14 0 19 0 6 0 1 0 8 0 5 0 17 0 44 0 11 1-275 0 119 0 2 0 14 0 8 0 0 0 6 0 4 0 3 0 1 0 12 0 6 0 20 0 12 0 1 0 0 0 16 1-118 0 6 0 20 0 19 0 4 0 2 0 1 0 2 0 1 0 6 0 13 0 4 0 8 0 24 0 76 1-241 0 34 0 65 0 4 0 4 0 1 0 3 0 6 0 6 0 1 0 3 0 17 0 9 0 29 0 8 1-148 0 37 0 5 0 10 0 8 0 21 0 20 0 1 0 2 0 3 0 13 0 3 0 7 0 1 0 4 1-126 0 50 0 3 0 8 0 3 0 9 0 7 0 9 0 6 0 0 0 20 1-89 0 11 0 5 0 2 0 1 0 19 0 17 0 5 0 6 0 6 0 10 0 2 1-98 0 12 0 5 0 0 0 6 0 1 0 1 0 22 0 41 0 2 0 13 1-81 0 2 0 5 0 4 0 1 0 0 0 13 0 1 0 7 0 3 0 11 0 6 0 2 0 0 0 14 0 9 0 5 0 1 1-155 0 29 0 14 0 12 0 16 0 1 0 26 0 4 0 8 0 16 0 9 0 61 1-176 0 23 0 10 0 20 0 1 0 1 0 5 0 1 0 10 0 12 0 4 0 21 1-60 0 24 0 2 0 4 0 2 0 13 0 9 0 5 0 0 0 5 0 2 1-60 0 17 0 3 0 1 0 2 0 7 0 3 0 2 0 5 0 4 0 5 0 0 0 5 0 11 1-119 0 15 0 29 0 20 0 4 0 7 0 18 0 11 0 20 0 11 0 1 1-105 0 15 0 2 0 4 0 13 0 31 0 18 1-136 0 49 0 11 0 67 0 13 0 0 0 37 1-106 0 8 0 2 0 11 0 9 0 13 0 16 0 41 0 30 1-196 0 43 0 9 0 22 0 2 0 16 0 6 0 4 0 14 0 29 1-111 0 7 0 2 0 12 0 25 0 6 0 5 0 13 0 0 0 12 0 8 0 4 0 0 0 23 0 0 0 12 0 20 1-197 0 42 0 27 0 12 0 1 0 5 0 28 0 10 0 5 0 13 0 8 0 6 0 0 0 3 0 9 0 9 1-115 0 5 0 7 0 5 0 1 0 4 0 21 0 5 0 10 0 21 0 23 1-127 0 10 0 3 0 4 0 0 0 6 0 25 0 4 0 2 0 2 0 1 0 42 0 2 0 4 1-59 0 2 0 26 0 9 0 3 0 3 0 6 0 2 0 5 0 9 0 13 0 48 1-155 0 9 0 10 0 31 0 49 0 16 0 4 0 38 1-176 0 18 0 53 0 8 0 35 0 7 0 1 0 43 1-149 0 26 0 1 0 23 0 3 0 24 0 3 0 3 0 10 0 6 1-134 0 17 0 6 0 58 0 10 0 5 0 0 0 15 0 3 0 25 0 19 1-162 0 14 0 35 0 22 0 1 0 16 0 1 0 18 0 1 0 0 0 0 0 2 0 3 0 3 0 1 0 0 0 3 0 10 0 3 0 0 0 4 0 3 0 10 0 6 0 2 0 7 1-118 0 11 0 11 0 22 0 17 0 2 0 15 0 16 0 12 0 7 1-142 0 48 0 52 0 4 0 16 0 40 1-100 0 16 0 7 0 21 0 1 0 13 0 1 0 23 1-132 0 29 0 3 0 43 0 4 0 95 1-184 0 33 0 49 0 0 0 3 0 10 0 3 0 1 0 27 1-112 0 3 0 10 0 36 0 36 0 8 0 23 0 0 0 18 0 6 1-173 0 55 0 1 0 26 0 1 0 13 0 50 1-127 0 17 0 15 0 3 0 11 0 26 0 8 0 5 0 10 0 2 0 0 0 15 1-127 0 57 0 1 0 20 0 10 0 2 0 7 0 19 0 19 0 18 1-83 0 10 0 4 0 8 0 25 0 5 0 7 0 10 0 6 1-111 0 5 0 5 0 0 0 7 0 8 0 30 0 0 0 9 0 8 0 3 0 32 0 37 0 5 1-126 0 19 0 1 0 2 0 2 0 11 0 4 0 1 0 7 0 1 0 5 0 23 0 11 0 13 1-94 0 19 0 16 0 7 0 11 0 7 0 0 0 2 0 28 0 49 1-204 0 5 0 75 0 2 0 14 0 22 0 28 1-111 0 43 0 21 0 13 0 26 0 3 1-153 0 63 0 18 0 7 0 34 0 21 0 0 0 34 1-188 0 76 0 18 0 31 0 6 0 38 1-118 0 10 0 34 0 11 0 9 0 10 0 3 0 25 0 2 1-60 1-30 0 15 0 11 0 44 2-87 0 5 0 28 0 21 0 7 0 5 0 9 0 10 0 5 0 46 1-82 0 10 0 54 1-124 0 8 0 71 0 12 1-60 0 39 0 1 0 70 1-112 0 9 0 28 0 7 0 16 0 45 1-139 0 52 0 3 0 12 0 10 0 5 0 37 0 77 1-204 0 61 0 10 0 11 0 1 0 75 1-107 0 21 0 20 0 8 0 15 1-64 0 36 0 10 0 15 0 47 0 45 1-155 0 5 0 17 0 7 0 17 0 7 0 20 1-129 0 43 0 89 0 11 1-85 0 13 0 11 0 5 0 12 0 22 1-112 0 48 0 65 1-137 0 4 0 45 0 22 0 10 0 1 0 5 0 13 0 3 0 10 0 6 0 13 0 9 1-108 0 49 0 7 0 61 0 7 1-116 0 24 0 27 0 21 0 1 1-38 0 40 0 10 1-122 0 86 0 7 0 2 0 3 0 25 0 5 1-33 0 15 0 0 0 23 1-113 0 8 0 29 0 41 0 38 0 10 1-132 0 12 0 64 1-51 0 8 0 1 0 22 0 33 0 3 0 0 0 0 0 23 1-98 0 58 0 12 0 10 0 22 0 5 0 3 1-58 0 18 0 25 0 17 0 26 1-148 0 32 0 29 0 3 0 8 0 1 0 14 0 8 0 6 0 15 1-86 0 55 0 18 1-128 0 89 0 33 1-72 0 9 0 46 0 10 0 4 1-52 0 26 0 5 0 6 0 5 0 8 0 3 0 19 1-65 0 5 0 31 0 6 0 0 0 24 0 14 0 39 1-161 0 7 0 2 0 32 0 74 0 1 1-99 0 49 0 15 0 31 1-107 0 23 0 14 0 25 0 35 1-92 0 7 0 77 0 20 0 1 0 2 0 18 0 11 1-83 0 17 0 1 0 4 0 5 0 0 0 4 0 36 1-95 0 5 0 3 0 33 0 17 0 33 1-141 0 24 0 20 0 2 0 6 0 26 1-54 0 17 0 43 0 9 0 5 0 1 1-58 0 39 0 4 0 5 0 6 0 12 0 36 1-84 0 7 0 8 0 11 0 23 0 1 0 14 1-101 0 42 0 2 0 18 0 9 0 4 0 4 0 10 0 26 1-115 0 74 0 7 0 13 0 14 1-167 0 106 0 17 0 24 0 8 1-105 0 24 0 14 0 42 0 6 0 5 0 13 0 28 1-85 0 9 0 1 0 13 0 23 0 24 1-39 1-99 0 8 0 36 0 16 0 17 0 47 0 10 0 33 0 13 1-169 0 23 0 60 0 1 0 12 0 9 0 48 1-114 0 54 0 0 0 12 0 3 0 34 0 4 1-128 0 17 0 14 0 7 0 24 0 58 0 1 0 3 1-92 0 31 0 10 0 4 0 3 0 0 0 5 1-103 0 48 0 17 0 41 0 5 0 3 0 4 0 11 1-182 0 84 0 30 0 3 0 20 0 3 0 2 0 2 0 24 0 28 0 20 1-128 0 14 0 7 0 19 0 5 0 45 0 21 1-152 0 51 0 12 0 4 0 8 0 12 0 10 1-76 0 34 0 92 0 1 0 45 1-149 1-56 0 28 0 11 0 24 0 19 0 26 0 15 0 13 1-88 0 14 0 1 0 10 0 20 0 5 0 3 0 0 1-82 0 106 0 3 0 22 1-32 0 7 0 46 1-116 0 32 0 26 0 3 0 4 0 2 0 11 0 2 0 1 0 15 0 10 1-87 1-44 0 33 0 18 0 5 0 46 0 11 1-101 0 11 0 7 0 14 0 1 0 15 0 4 0 6 1-66 0 10 0 3 0 30 0 7 0 7 0 22 0 1 0 24 0 6 0 34 1-114 0 37 0 14 0 4 0 3 0 8 0 21 0 4 1-122 0 29 0 42 1-4 0 8 0 4 0 1 0 8 0 42 1-103 0 11 0 30 0 9 1-69 0 1 0 40 0 4 0 5 0 4 0 3 0 13 0 33 0 24 1-95 0 20 0 1 0 25 1-121 0 71 0 7 0 38 0 6 1-93 0 11 0 35 0 20 0 8 0 0 0 17 0 12 1-114 0 75 0 13 0 12 0 4 0 4 0 5 0 22 0 16 1-130 0 11 0 95 0 4 1-126 0 11 0 2 0 53 0 26 0 0 1-82 0 37 0 10 0 12 0 19 0 36 1-107 0 6 0 9 0 8 0 19 0 14 0 5 0 24 1-137 0 91 0 25 0 15 0 80 1-107 0 10 0 21 1-90 0 27 0 5 0 14 0 8 0 19 0 16 0 1 0 62 1-134 0 4 0 6 0 11 0 12 0 8 0 26 1-111 0 61 0 30 0 10 0 8 0 1 1-72 0 10 0 67 0 6 0 21 1-163 0 69 0 0 0 24 0 6 0 10 0 7 0 5 0 11 0 47 1-49 0 8 0 6 1-56 0 11 0 0 0 7 0 7 1-70 0 12 0 35 0 43 0 13 1-114 0 26 0 57 0 6 0 4 1-90 0 57 0 25 0 28 0 0 0 5 1-90 0 3 0 2 0 50 0 41 1-103 0 21 0 53 0 1 0 14 0 18 0 37 1-167 0 45 0 34 0 10 1-93 0 112 1-104 0 48 1 36 0 7 0 35 0 0 0 45 1-175 0 14 0 49 0 3 0 11 0 19 0 3 0 0 1-101 0 36 0 10 0 24 1-104 0 112 0 8 0 15 0 47 1-73 1-104 0 128 1-14 1-29 1-52 0 35 0 68 1-88 0 80 0 5 1-20 1-44 0 57 0 11 1-39 0 34 0 34 1-121 0 39 0 14 0 12 0 2 0 14 0 7 1-82 1 91 1-70 0 2 0 5 0 52 0 20 1-80 0 45 0 23 1-179 0 64 0 17 0 33 0 14 0 88 1-98 0 27 0 14 1-85 0 55 0 10 0 47 0 12 1-104 1 33 0 8 0 8 0 7 0 18 1-81 0 14 0 46 0 10 0 5 1-24 0 19 0 21 0 16 0 0 1-129 0 20 0 17 0 55 0 72 1-129 0 68 0 61 1-67 1-53 0 3 0 67 1-15 0 75 1-163 1 29 0 7 0 28 0 33 0 20 1-139 0 97 0 1 0 11 1-68 0 113 1-54 0 3 1-76 0 6 0 12 0 52 0 4 0 14 0 2 0 2 0 22 2-124 0 38 0 16 0 74 1-108 1-12 0 19 0 19 0 16 0 8 0 1 1-93 0 93 0 43 1-77 0 55 1-85 0 68 0 13 0 14 0 5 0 31 0 0 1-93 1-1 0 8 0 52 1-91 0 77 0 4 1-72 0 53 1-41 0 41 0 4 0 3 0 38 1-105 0 34 0 41 1-78 0 22 0 52 0 11 0 19 0 47 1-177 1 48 0 28 0 5 1-61 0 47 0 6 1-57 0 71 1-24 0 14 0 35 0 11 1-5 0 0 0 2 0 10 1-28 1 41 1-89 0 10 0 5 0 51 1-85 0 57 0 17 0 6 1-88 0 36 1-11 0 61 1-86 0 45 0 14 0 59 1-189 0 79 0 20 0 35 0 32 0 10 1 6 1-69 0 33 0 21 0 4 0 2 1-135 0 59 0 20 0 13 0 25 1-77 0 15 1 7 0 5 0 50 1-60 0 16 0 5 0 2 0 13 0 1 0 42 1-43 0 3 0 17 0 4 0 12 1-89 0 3 0 10 0 76 1-54 0 33 0 2 0 6 0 45 1-110 0 33 0 48 1-65 0 54 0 3 0 15 0 32 1-16 1-25 1-39 0 39 1-152 0 80 0 5 0 23 0 6 0 45 1-29 0 8 0 28 1-133 0 60 0 25 0 4 0 52 1-111 0 13 0 3 1-22 0 49 0 2 1-49 0 28 0 28 0 17 0 6 1-65 0 49 0 12 1-38 0 8 0 8 0 21 0 14 0 52 1-154 0 31 0 15 0 26 0 12 0 2 1-41 0 11 0 40 0 7 0 5 1-17 0 14 0 8 0 6 1-87 1-172 0 149 0 84 0 7 0 10 1-84 0 17 0 6 0 4 0 40 0 1 0 21 1-56 1-54 0 28 0 19 0 4 0 27 0 29 0 34 1-186 1 16 0 47 0 11 0 24 0 1 0 26 0 11 2-80 1 12 0 45 0 20 1-115 0 110 0 61 1-151 0 32 0 17 1-29 0 80 0 39 1-113 0 1 0 26 1-14 0 64 1-95 0 20 0 35 0 5 1-79 0 1 0 96 1-35 1 5 0 17 0 16 0 7 0 23 1-138 0 108 0 8 0 12 0 18 0 1 0 35 1-137 0 77 1-110 0 53 0 78 1-58 0 18 0 15 1-85 0 17 0 31 0 32 1-50 0 31 0 33 1-69 0 5 0 84 1-57 0 85 1-96 0 14 1-70 0 3 0 83 1-77 0 50 0 20 0 14 0 24 1-2 0 2 0 0 0 2 1-74 0 4 0 31 0 14 0 5 1-66 0 51 1-85 0 43 0 22 0 7 0 2 0 13 0 3 0 17 0 41 0 13 1-85 0 2 0 23 0 3 0 27 1-131 0 45 0 38 1-85 0 36 0 20 0 37 0 9 0 23 1-70 0 22 1-114 0 68 1 22 0 46 1-43 0 10 0 20 0 25 0 1 1-109 1 62 0 8 0 21 0 12 0 2 0 51 1-142 0 30 0 57 1-89 0 23 0 1 0 31 0 11 0 23 0 6 1-50 0 0 0 45 0 37 1-60 0 6 0 23 1-117 0 27 0 79 0 2 0 11 0 0 1-92 0 41 0 8 0 0 0 3 0 24 0 25 1-41 0 14 1-57 0 4 0 35 0 11 1-106 0 29 0 40 0 0 0 11 2-51 0 0 0 74 0 5 0 39 0 1 1-167 0 35 0 12 0 29 0 32 0 24 1-87 0 15 0 25 0 3 0 5 0 16 0 15 0 56 1-101 2 22 0 55 1-178 0 64 0 24 1-27 1-9 0 19 0 77 0 4 1-54 0 74 1-116 0 89 1-60 0 11 0 26 0 37 0 24 1 9 1-100 0 17 0 2 0 22 1-88 0 29 0 61 0 3 0 26 1-98 0 32 0 20 1-74 0 51 0 34 0 3 0 20 1-23 1-64 0 35 0 10 0 22 0 9 0 7 0 0 0 41 1-94 0 21 0 36 0 33 1-105 0 22 0 5 0 5 0 6 1 12 0 47 0 22 1-124 0 55 0 28 0 0 1-61 0 6 0 12 0 28 0 5 0 5 2-84 0 69 0 62 1-104 0 13 0 23 1-58 0 95 1-103 1 76 1-51 0 32 0 17 0 77 1-122 1 13 0 23 0 9 0 22 1-90 0 54 0 22 0 14 1-79 0 19 0 10 1-28 0 1 0 31 0 51 0 5 1-80 0 70 1-67 0 149 1-126 1-31 0 72 0 15 1-161 0 85 0 8 0 27 0 4 0 3 1 69 1-197 0 87 1-33 0 49 1 46 1-40 0 3 0 19 0 8 1-110 0 36 0 22 0 4 0 62 1-43 0 66 1-39 0 30 0 21 2-103 0 84 1-107 0 103 1-99 0 6 0 34 0 12 1-44 0 46 0 20 0 9 0 10 1-105 0 16 0 11 0 71 0 4 1-22 1-8 0 42 1-24 1-91 0 73 0 1 1-61 0 22 0 24 2-26 0 2 0 5 1 20 0 25 1-65 0 18 0 13 1 24 1-75 0 54 1-38 0 11 1-39 3-5 0 34 0 59 1-73 0 8 0 31 1-42 0 128 1-127 0 3 0 37 0 61 1-77 0 38 0 8 1 3 0 11 0 2 0 2 1-29 0 12 0 31 0 50 1-134 1 63 1-53 0 15 0 8 0 1 0 11 0 28 1-16 1-68 0 106 1-91 0 18 0 30 1-105 0 66 0 38 0 3 0 31 1-46 0 4 1-1 0 5 1-26 1 8 0 65 1-128 0 29 0 4 0 53 3-105 0 54 0 16 0 31 1-83 0 32 0 26 0 81 1-70 0 58 1-70 0 29 0 82 1-123 0 43 0 71 1-105 0 39 0 14 0 36 1-81 0 36 1-94 1 80 0 19 0 2 0 8 1-1 1-65 1-29 0 36 0 18 0 20 1-45 0 10 0 22 0 6 0 81 1-62 0 4 0 21 0 8 1-86 0 59 1-28 0 110 1-145 1-82 0 10 0 90 1-18 0 11 0 54 1-133 0 28 0 50 0 10 0 13 1-13 0 2 0 33 0 25 1-62 0 20 0 25 1-89 0 14 0 86 1-84 0 71 1-50 0 42 0 20 1-80 0 92 0 3 0 3 1-89 0 10 0 17 0 22 0 42 1-169 0 2 0 68 1 32 0 14 1-113 0 37 0 48 0 32 0 34 1-116 0 3 0 34 0 27 0 4 0 22 1-91 0 46 0 76 1-101 0 24 0 14 0 17 1-60 0 29 0 48 1-48 0 61 1-94 0 96 0 17 1-121 1-2 0 24 2 23 0 5 0 18 1-26 0 89 1-100 0 27 0 17 1-25 0 25 1 41 1-41 0 4 0 3 0 6 0 23 1-62 0 15 1-85 0 65 0 17 0 26 1-42 0 2 0 9 1 24 0 14 0 17 1-81 0 23 0 9 0 8 0 3 0 4 0 19 0 24 1-38 0 9 1-87 0 32 0 20 0 117 1-157 0 20 0 7 0 31 1-36 0 3 0 20 0 12 0 34 1-78 0 7 0 37 1-43 0 94 1-111 0 34 1-77 0 51 0 52 0 22 0 8 0 0 1-58 0 44 1-55 0 73 0 33 1-90 0 42 0 21 0 42 1-134 0 24 0 32 1-49 0 19 0 9 0 5 1 26 1-112 0 113 1-55 0 37 0 77 1-150 0 13 0 2 0 26 0 2 0 5 0 61 1-137 0 0 0 5 0 88 1-37 0 70 1-49 0 18 1-39 0 7 0 29 0 74 1-103 0 33 0 21 1-47 1-24 0 53 1-34 0 3 0 48 0 24 1-59 0 3 0 2 0 39 1-38 1-58 0 110 1-83 0 26 0 9 1-26 0 18 0 66 1-121 0 41 0 25 1-35 0 37 1 10 0 14 0 6 1-40 0 9 0 51 1-95 0 16 1 33 1-110 0 63 0 8 0 19 0 42 1-19 1-19 0 2 1-36 0 14 0 19 0 18 0 18 0 27 1-31 1-51 0 10 0 51 0 14 0 39 1-74 0 13 1-9 0 54 1-117 0 26 0 5 0 11 1-20 0 53 0 2 1-83 0 4 0 64 0 17 1-77 0 48 0 27 0 0 0 47 2-175 0 70 1-33 0 52 0 5 1-40 0 133 1-108 0 8 0 4 0 1 0 14 0 1 0 118 1-130 0 35 1-66 0 30 1-94 0 19 0 103 1-37 0 33 0 1 0 9 0 7 0 21 1-170 0 155 0 24 1-112 1 3 0 15 0 28 0 1 1-34 0 6 1 31 0 14 0 32 0 38 1-96 1-81 0 95 0 9 1-84 0 42 0 7 0 48 1-56 1-5 0 52 0 22 0 24 1-148 0 30 0 1 0 1 0 15 0 24 0 22 0 36 0 23 1-102 0 2 1 40 1-39 0 8 0 6 0 37 1-134 0 125 0 37 1-117 0 18 0 55 1-38 1-54 0 8 0 29 0 45 1-32 0 20 0 10 1-8 1-13 0 20 0 57 1-87 0 36 0 11 0 28 0 37 1-199 0 60 0 0 0 3 0 36 0 30 0 15 1-127 0 78 0 10 0 4 0 23 0 9 1-50 0 16 0 16 0 15 0 40 1-186 0 125 0 48 1-33 0 20 2-83 0 52 0 9 1-29 0 8 0 31 1-6 0 49 1-160 0 1 0 84 0 67 1-119 0 66 0 105 1-178 0 25 1 54 0 5 0 15 0 2 1-89 0 23 0 27 0 18 0 6 1-20 0 6 0 61 0 9 0 29 1-116 0 10 0 31 1-16 0 22 1-76 0 31 0 17 0 3 0 1 1 25 2-103 0 40 0 47 0 15 0 13 0 1 0 8 0 7 0 14 1-123 0 82 1-89 0 36 0 36 1-56 1-11 0 37 1-61 0 76 0 18 0 7 1-79 0 19 0 4 1-28 1 31 0 7 0 27 0 9 0 27 1-13 0 7 1-38 0 47 1-90 0 39 0 22 0 2 1-74 0 27 0 3 1 16 1-1 0 12 0 5 0 69 1-141 0 102 0 8 1-51 0 4 1-47 0 51 1-73 2 20 0 106 0 6 1-15 1-103 0 68 0 1 0 46 1-144 0 25 0 19 0 51 1 10 0 11 0 37 1-123 0 40 0 11 0 39 0 1 0 23 1-108 0 51 0 23 1-66 0 55 1 42 1-82 0 22 0 40 1-58 0 49 0 45 0 18 1-95 2-76 0 22 0 109 0 68 1-154 0 9 0 5 0 3 0 8 1-11 0 37 1-92 0 68 0 8 0 26 0 10 1-44 1-36 0 60 0 26 1-89 1 9 0 2 0 54 1-97 0 48 1-9 0 3 0 33 1 9 0 2 1-75 0 23 0 27 0 32 0 7 0 24 1-106 0 15 0 26 0 14 0 41 2-52 0 2 0 8 0 10 0 6 0 16 0 54 1-168 0 25 0 41 0 41 0 30 1-50 0 12 1-129 0 71 0 104 0 10 0 27 1-105 0 55 0 8 0 25 0 17 1-145 0 11 1 4 0 12 0 69 1-37 1-98 0 65 0 77 0 18 1-141 0 57 0 9 0 89 1-83 0 10 0 15 1-27 0 41 1-80 0 11 0 13 0 17 1-36 0 58 1-53 0 40 0 41 0 11 1-148 0 21 0 21 0 68 0 35 1-99 0 38 0 10 1-41 0 49 0 45 1-26 1-77 1 36 0 11 1-33 0 54 0 10 0 3 0 5 1-15 1-49 0 4 0 15 0 1 0 4 0 60 1-141 0 37 0 44 0 65 2-133 0 7 0 18 0 28 0 6 0 44 1-89 0 29 1-45 0 98 1-17 1-24 0 20 0 1 0 2 0 16 0 13 1-79 0 45 0 9 0 66 0 11 1-31 1-22 1-98 0 55 0 8 0 6 0 29 0 32 1-133 0 16 1 2 0 22 0 53 1-53 0 60 1-32 1-70 1 59 1-65 0 46 0 23 0 82 0 4 0 24 1-121 0 7 0 33 0 7 0 8 0 3 1-150 0 135 0 70 1-196 0 57 0 8 0 22 1-34 0 96 0 15 1-116 0 83 1-93 0 65 0 16 0 8 1-56 0 1 0 44 0 5 1-89 0 8 0 23 0 64 0 16 1-89 0 12 0 12 0 65 1-48 0 6 0 37 1-57 1 19 0 28 1-102 0 68 0 7 0 34 0 27 1-58 0 18 0 63 1-114 0 62 1-125 0 41 0 47 0 52 1-86 0 64 0 17 0 19 1-37 0 11 0 107 1-190 0 35 1-65 0 40 0 13 0 20 0 47 1-119 0 20 0 34 0 15 0 21 0 85 1-165 0 32 0 37 1-78 1 13 0 24 0 3 0 53 0 1 0 10 1-72 1-42 0 79 0 114 1-208 0 118 0 24 1-79 0 45 0 36 1-65 1-2 0 13 1-33 0 47 0 94 1-149 0 33 1-14 0 21 0 70 1-90 0 17 0 2 1 5 1 26 1-31 0 1 1-102 0 57 0 29 0 49 0 1 1-88 0 24 0 41 0 22 1-15 1-7 0 23 1 4 0 5 1-25 0 37 1-8 1-52 0 17 0 32 1-80 0 73 0 9 0 4 1-96 0 22 0 5 1-3 0 1 0 27 0 28 1-86 0 17 0 30 0 48 1-75 0 20 0 46 1-60 1-11 1 21 0 30 0 10 0 22 1-96 0 61 1-101 0 93 0 17 0 21 0 51 1-132 0 50 1-67 0 12 0 62 1-77 0 28 0 12 1 100 1-166 0 34 0 64 0 29 1-82 0 42 1-59 1 31 0 20 0 50 1-92 1 92 1-30 0 9 1 21 1-83 0 20 0 14 1-69 0 79 0 1 0 53 2-139 0 59 0 12 0 88 1-100 0 78 1-126 0 80 0 56 0 9 2-61 0 39 1-63 0 15 1 58 1-120 0 17 0 67 1-97 0 2 0 50 0 5 0 10 0 3 1-14 0 49 0 2 2-140 0 84 0 27 0 11 0 75 1-87 0 10 0 41 1-51 0 3 0 19 0 5 0 1 1-94 0 15 0 83 0 32 0 35 1-122 0 2 1-13 0 25 0 1 0 62 1-198 0 95 0 2 0 29 0 25 0 33 1-115 0 35 0 5 0 58 0 19 1-69 0 30 1-36 0 3 0 2 1-22 0 55 0 49 1-78 1-92 0 38 1 16 0 58 1-29 0 59 1-52 0 28 0 8 1-9 0 2 0 3 0 22 0 22 2-133 0 96 0 24 0 29 1-103 0 9 0 1 0 23 0 23 0 90 1-195 0 24 0 51 0 42 0 18 1 1 1-64 0 14 1-66 0 11 1-5 0 29 0 14 0 61 1-96 0 79 1-13 0 31 0 5 1-113 0 66 0 9 1-23 0 4 0 3 0 19 0 12 1-46 0 10 0 81 0 57 1-165 0 29 0 19 1-19 0 28 1-86 0 64 0 28 0 82 1-146 0 72 1-130 0 4 0 24 0 4 0 62 0 34 0 1 1-10 0 23 0 14 4-78 1-40 1-9 0 74 0 50 1-71 0 5 0 34 1-44 0 18 0 9 0 12 0 41 1-142 0 9 0 47 0 2 0 69 1-75 0 105 1-167 0 75 0 1 0 24 1-76 0 35 0 5 1-56 0 43 0 76 0 4 1-56 0 22 1-45 1-94 0 48 0 66 2-48 0 76 1 18 1-25 0 11 0 21 1-4 1-48 0 48 0 38 1-129 0 67 0 15 0 17 1-110 0 105 0 30 1-122 0 13 1 73 0 0 1-35 0 39 0 2 0 40 1-151 0 35 0 18 0 39 0 20 0 41 1-107 0 22 1-60 0 42 1-5 1 13 0 9 0 16 0 1 0 9 0 11 1-50 0 45 1-24 0 30 1-67 0 2 0 22 0 37 1-113 0 69 0 29 0 45 1-77 0 3 1 43 1-76 0 20 0 43 0 33 1-78 0 34 0 2 1-83 0 24 0 43 1-5 0 6 0 23 0 1 0 55 1-126 0 46 0 9 0 42 0 37 2-132 0 42 0 18 0 34 1-109 0 11 0 89 0 4 0 9 1-68 0 2 0 50 0 33 1-16 1-51 0 29 0 33 1-101 0 100 2-126 0 54 0 18 0 16 0 21 0 24 0 4 0 25 1-120 0 15 0 41 0 21 2 3 1-76 0 6 0 16 1-38 0 16 0 36 0 41 0 27 1-133 0 82 0 24 1-80 0 35 1 36 0 40 1-189 0 97 0 26 0 30 0 7 1-131 0 45 0 40 0 10 1-84 0 4 0 17 0 28 1 11 0 11 0 9 0 3 0 2 0 19 1-103 0 32 0 3 1 56 1-107 0 71 0 13 1-60 0 21 0 21 1 0 2 22 0 36 0 5 0 22 1-72 0 10 0 42 1-90 0 118 1-68 1 22 1-105 0 60 0 8 0 3 0 2 0 8 0 13 1-74 0 96 1-70 1 17 0 54 0 18 0 1 1-56 0 29 0 38 2-133 1 0 1-18 0 50 0 12 0 46 0 3 1-90 0 65 0 32 0 32 0 6 1-102 1-42 1 43 0 35 0 7 0 6 0 2 1-73 0 72 1-94 0 27 0 20 0 104 1-118 0 16 0 1 0 50 1-144 0 4 0 85 0 38 1-33 0 25 0 2 0 7 1-25 1 10 0 2 0 50 0 30 1 36 1-213 0 98 0 17 0 6 0 24 0 31 1-158 0 67 0 19 0 12 0 84 1-127 0 7 1-26 0 0 0 46 0 7 0 23 1-21 0 120 1-173 0 122 1-85 1-68 0 73 0 14 0 26 0 34 1-87 0 56 0 7 1-58 0 44 1-117 1 50 0 3 0 11 2-74 0 84 0 14 0 1 1-68 0 98 1-105 0 96 0 39 1-76 0 8 0 5 0 38 1-101 0 65 0 28 1-47 1-85 0 109 1-42 0 14 0 81 1-84 1 6 0 72 1-105 0 33 0 28 1-7 1-152 0 79 0 6 0 70 0 44 0 22 1-69 0 10 0 64 1-158 0 67 1 5 0 13 1-15 0 26 1-113 0 76 0 20 0 9 0 69 2-117 0 9 0 21 0 18 0 78 1-107 0 60 1 18 1-35 1-101 0 96 0 39 1-66 0 12 1-43 1 9 0 54 1-128 0 49 0 39 1 14 0 16 1-11 1-34 0 41 0 20 0 14 0 40 1-160 0 120 1-85 0 29 0 10 1-89 0 102 0 106 1-139 0 28 0 28 1-65 1 10 0 8 0 22 0 23 1-65 1-12 0 41 1-105 0 75 1-32 0 5 0 20 0 103 1-152 0 38 0 21 0 14 1-37 0 43 1 60 1-87 0 34 0 8 0 26 0 5 1-52 1 41 0 1 2-108 0 124 1-57 0 41 0 43 2-133 0 4 0 11 0 13 0 21 0 116 1-158 0 26 0 47 1-71 0 126 1-164 0 27 0 57 0 7 0 32 1-139 0 36 0 30 0 29 0 46 1-43 0 25 0 5 1-116 0 67 0 26 0 24 1-15 1-20 0 11 0 24 0 27 1-138 0 141 2-107 0 47 0 67 0 65 1-149 0 23 0 1 0 46 1-54 0 67 1-86 0 63 1-57 1-33 0 23 0 10 0 7 0 90 1-132 0 50 0 45 0 9 2-147 1 26 0 46 0 16 1-40 1-32 0 57 0 34 0 36 0 65 1-166 0 61 1-30 0 63 0 27 1-87 0 12 0 20 1 5 0 35 1-65 0 16 0 10 0 62 0 14 1-15 2-135 0 142 1-45 0 26 1-113 0 51 0 41 1-98 0 25 0 6 0 3 0 6 0 15 0 83 1-114 0 16 0 8 0 20 0 20 0 10 0 15 0 5 1-129 0 20 0 100 1-100 0 20 0 97 1-110 0 56 0 36 1-83 0 2 0 45 2-92 1 57 0 17 0 35 0 62 1-130 0 60 1-17 0 20 1-99 0 28 0 106 0 7 1-85 0 17 0 0 0 12 1-112 0 84 0 22 0 5 0 5 1-32 0 27 0 77 1-145 0 66 0 27 1-30 0 50 0 8 1-202 0 157 0 53 1-83 0 16 1-29 0 5 1 26 0 7 0 20 1 5 1 79 2-136 1 29 0 78 1-169 0 44 0 17 0 35 1-43 0 22 1 21 0 6 1-29 0 15 0 10 0 8 1-106 0 140 1-124 0 43 0 69 1-108 0 73 0 17 1 13 1-27 1-32 1-28 0 21 0 5 0 7 0 11 0 44 1-71 0 10 0 62 1-55 0 19 0 54 1-111 0 35 1-10 1 0 0 37 0 47 1-107 0 20 0 6 0 28 0 46 1-85 0 83 1-93 0 24 0 17 0 32 0 54 1-109 1-34 0 98 0 29 1-118 0 51 1-57 0 95 1-59 0 1 1 34 0 28 1-14 1 11 1-120 0 71 0 15 0 22 0 23 1-147 0 120 0 23 1-93 1-8 0 110 1-14 1-68 1 13 0 12 0 5 1-12 1-58 1 6 0 0 1 49 1 3 0 46 0 24 1-99 1 83 1-131 0 39 0 9 0 22 0 19 1 53 0 7 1-162 0 122 1-38 0 43 1-33 2-4 0 16 1-74 0 33 2 66 0 18 0 7 1-46 0 0 0 3 0 1 0 5 0 16 1-127 0 74 0 51 1-100 0 77 1-86 0 62 0 29 0 50 1-92 0 4 0 76 0 18 1-63 0 74 1-65 0 34 1-77 0 70 0 7 1-98 1-23 0 27 0 112 1-136 0 31 0 69 1-34 1 6 1-24 0 133 1-72 1-54 0 7 0 46 0 14 0 3 1-103 0 33 0 40 0 7 1-98 0 64 1-35 0 20 0 41 1-61 0 40 0 28 0 44 1-131 0 10 0 28 0 22 0 52 1-48 0 18 1-12 1 28 0 28 1-89 0 5 0 28 0 8 0 58 1-134 0 50 1-37 0 20 0 46 0 2 1 29 0 3 1-81 0 2 0 57 1-40 1-25 0 20 0 27 1-35 0 24 1-40 0 42 2-48 2 26 1 3 1-50 0 53 0 4 1 17 1 9 2-35 0 16 0 2 0 0 0 26 0 14 1-83 0 98 0 19 1-100 0 17 1-111 0 18 0 65 0 27 1-2 0 3 0 13 0 8 1 54 1-67 0 112 1-104 0 7 0 5 3-47 0 19 0 58 1-84 1-46 0 71 0 17 0 8 1-17 1-88 0 80 0 13 0 29 1-27 0 11 0 15 1-38 1-3 1 3 1-19 0 4 1-58 0 133 1-167 0 10 0 132 2-96 0 81 0 24 1-83 3 66 1-76 1 55 1 25 0 0 1-65 0 4 0 34 2-4 1-45 2-6 0 24 0 47 0 25 0 62 1-189 0 22 1-29 0 78 0 19 0 19 0 89 1-118 0 47 1-73 0 3 0 0 0 39 1-24 0 15 0 37 0 9 0 11 1-138 0 16 0 92 3-63 0 98 1-130 0 83 2-40 1 14 0 3 0 27 1-36 1-64 0 49 0 40 0 0 0 8 0 16 0 5 1-35 0 39 0 35 1-149 0 74 2 47 0 16 1-120 0 66 1-77 0 28 1-65 1 77 0 43 1-87 0 45 0 1 0 63 0 33 1-159 0 57 0 3 0 4 1 21 0 27 0 16 1-17 0 31 1 15 1-108 0 7 0 10 0 12 0 56 1-88 1-50 1 79 0 20 1-97 0 93" marker-start="url(#mk)" marker-mid="url(#mk)" marker-end="url(#mk)"/></g><path d="M59.6 569.91 L64.34 569.52 L69.09 569.14 L73.83 568.77 L78.57 568.4 L83.32 568.03 L88.06 567.67 L92.8 567.32 L97.54 566.96 L102.29 566.62 L107.03 566.28 L111.77 565.94 L116.52 565.6 L121.26 565.28 L126 564.95 L130.75 564.63 L135.49 564.32 L140.23 564.01 L144.98 563.7 L149.72 563.4 L154.46 563.1 L159.2 562.81 L163.95 562.53 L168.69 562.24 L173.43 561.97 L178.18 561.69 L182.92 561.42 L187.66 561.16 L192.41 560.9 L197.15 560.65 L201.89 560.39 L206.64 560.15 L211.38 559.91 L216.12 559.67 L220.86 559.44 L225.61 559.21 L230.35 558.99 L235.09 558.77 L239.84 558.56 L244.58 558.35 L249.32 558.15 L254.07 557.95 L258.81 557.75 L263.55 557.56 L268.29 557.37 L273.04 557.19 L277.78 557.02 L282.52 556.84 L287.27 556.68 L292.01 556.51 L296.75 556.36 L301.5 556.2 L306.24 556.05 L310.98 555.91 L315.73 555.77 L320.47 555.63 L325.21 555.5 L329.95 555.38 L334.7 555.26 L339.44 555.14 L344.18 555.03 L348.93 554.92 L353.67 554.82 L358.41 554.72 L363.16 554.62 L367.9 554.53 L372.64 554.45 L377.39 554.37 L382.13 554.29 L386.87 554.22 L391.61 554.16 L396.36 554.1 L401.1 554.04 L405.84 553.99 L410.59 553.94 L415.33 553.9 L420.07 553.86 L424.82 553.82 L429.56 553.79 L434.3 553.77 L439.05 553.75 L443.79 553.73 L448.53 553.72 L453.27 553.72 L458.02 553.71 L462.76 553.72 L467.5 553.73 L472.25 553.74 L476.99 553.75 L481.73 553.78 L486.48 553.8 L491.22 553.83 L495.96 553.87 L500.71 553.91 L505.45 553.95 L510.19 554 L514.93 554.05 L519.68 554.11 L524.42 554.17 L529.16 554.24 L533.91 554.31 L538.65 554.39 L543.39 554.47 L548.14 554.56 L552.88 554.65 L557.62 554.74 L562.37 554.84 L567.11 554.95 L571.85 555.05 L576.59 555.17 L581.34 555.29 L586.08 555.41 L590.82 555.54 L595.57 555.67 L600.31 555.8 L605.05 555.95 L609.8 556.09 L614.54 556.24 L619.28 556.4 L624.03 556.56" stroke="#0000ff" stroke-width="2.1" fill="none"/><g fill="none" stroke="#000" stroke-width="1.6"><path d="M59.6 569.84 L85.65 569.84 L85.65 556.55 L139.15 556.55 L139.15 539.93 L219.4 539.93 L219.4 532.17 L326.4 532.17 L326.4 524.79 L379.9 524.79 L379.9 519.43 L623.33 519.43" stroke-dasharray="6.3 2.7"/><path d="M59.6 587.01 L85.65 587.01 L85.65 575.93 L139.15 575.93 L139.15 563.75 L219.4 563.75 L219.4 549.71 L326.4 549.71 L326.4 542.51 L379.9 542.51 L379.9 537.16 L623.33 537.16"/><path d="M59.6 605.11 L85.65 605.11 L85.65 595.88 L139.15 595.88 L139.15 588.12 L219.4 588.12 L219.4 567.44 L326.4 567.44 L326.4 560.05 L379.9 560.05 L379.9 554.7 L623.33 554.7" stroke-dasharray="6.3 2.7"/></g></g><rect x="59.5" y="451.85" width="561.8" height="184.65" fill="none" stroke="#000" stroke-width="0.9"/><path d="M59.6 636.5v3.96M193.35 636.5v3.96M327.1 636.5v3.96M460.85 636.5v3.96M594.6 636.5v3.96M59.5 636.5h-3.96M59.5 599.57h-3.96M59.5 562.64h-3.96M59.5 525.71h-3.96M59.5 488.78h-3.96M59.5 451.85h-3.96" stroke="#000" stroke-width="0.9"/><g font-family="Liberation Sans, sans-serif" stroke="#000" stroke-width="0.15" font-size="11.8" fill="#000"><text x="59.3" y="653.1" text-anchor="middle">0</text><text x="193.05" y="653.1" text-anchor="middle">5</text><text x="326.8" y="653.1" text-anchor="middle" textLength="13.82" lengthAdjust="spacingAndGlyphs">10</text><text x="460.55" y="653.1" text-anchor="middle" textLength="13.82" lengthAdjust="spacingAndGlyphs">15</text><text x="594.3" y="653.1" text-anchor="middle" textLength="13.82" lengthAdjust="spacingAndGlyphs">20</text><text x="50.6" y="640.4" text-anchor="end" textLength="13.82" lengthAdjust="spacingAndGlyphs">20</text><text x="50.6" y="603.47" text-anchor="end" textLength="13.82" lengthAdjust="spacingAndGlyphs">40</text><text x="50.6" y="566.54" text-anchor="end" textLength="13.82" lengthAdjust="spacingAndGlyphs">60</text><text x="50.6" y="529.61" text-anchor="end" textLength="13.82" lengthAdjust="spacingAndGlyphs">80</text><text x="50.6" y="492.68" text-anchor="end" textLength="20.73" lengthAdjust="spacingAndGlyphs">100</text><text x="50.6" y="455.75" text-anchor="end" textLength="20.73" lengthAdjust="spacingAndGlyphs">120</text></g><text font-family="Liberation Sans, sans-serif" stroke="#000" stroke-width="0.15" font-size="11.8" fill="#000" text-anchor="middle" transform="translate(21.3 544.15) rotate(-90)" textLength="191.2" lengthAdjust="spacingAndGlyphs">Diastolic Blood Pressure (mm Hg)</text><text font-family="Liberation Sans, sans-serif" stroke="#000" stroke-width="0.15" font-size="11.8" fill="#000" x="339.8" y="669.6" text-anchor="middle" textLength="66" lengthAdjust="spacingAndGlyphs">Age (Years)</text><rect x="3.9" y="688.9" width="672.6" height="20.4" rx="3" fill="#fff" fill-opacity="0.8" stroke="#d6d6d6" stroke-width="1.1"/><circle cx="19.1" cy="697.8000000000001" r="1.9" fill="#00f" fill-opacity=".09"/><path d="M90.9 698.2H115.6" stroke="#00f" stroke-width="2.3"/><path d="M242 698.2H265.3M548.2 698.2H571.2" stroke="#000" stroke-width="1.7" stroke-dasharray="6.3 2.7"/><path d="M390.8 698.2H415" stroke="#000" stroke-width="1.7"/><text font-family="Liberation Sans, sans-serif" stroke="#000" stroke-width="0.15" font-size="11.8" fill="#000" x="40" y="701.5" textLength="28.5" lengthAdjust="spacingAndGlyphs">PASS</text><text font-family="Liberation Sans, sans-serif" stroke="#000" stroke-width="0.15" font-size="11.8" fill="#000" x="123.2" y="701.5" textLength="95.4" lengthAdjust="spacingAndGlyphs">PASS Regression</text><text font-family="Liberation Sans, sans-serif" stroke="#000" stroke-width="0.15" font-size="11.8" fill="#000" x="273.5" y="701.5" textLength="95.3" lengthAdjust="spacingAndGlyphs">Age-Normal Max</text><text font-family="Liberation Sans, sans-serif" stroke="#000" stroke-width="0.15" font-size="11.8" fill="#000" x="422.9" y="701.5" textLength="102.7" lengthAdjust="spacingAndGlyphs">Age-Normal Mean</text><text font-family="Liberation Sans, sans-serif" stroke="#000" stroke-width="0.15" font-size="11.8" fill="#000" x="579.7" y="701.5" textLength="92.1" lengthAdjust="spacingAndGlyphs">Age-Normal Min</text></svg></body></html>
